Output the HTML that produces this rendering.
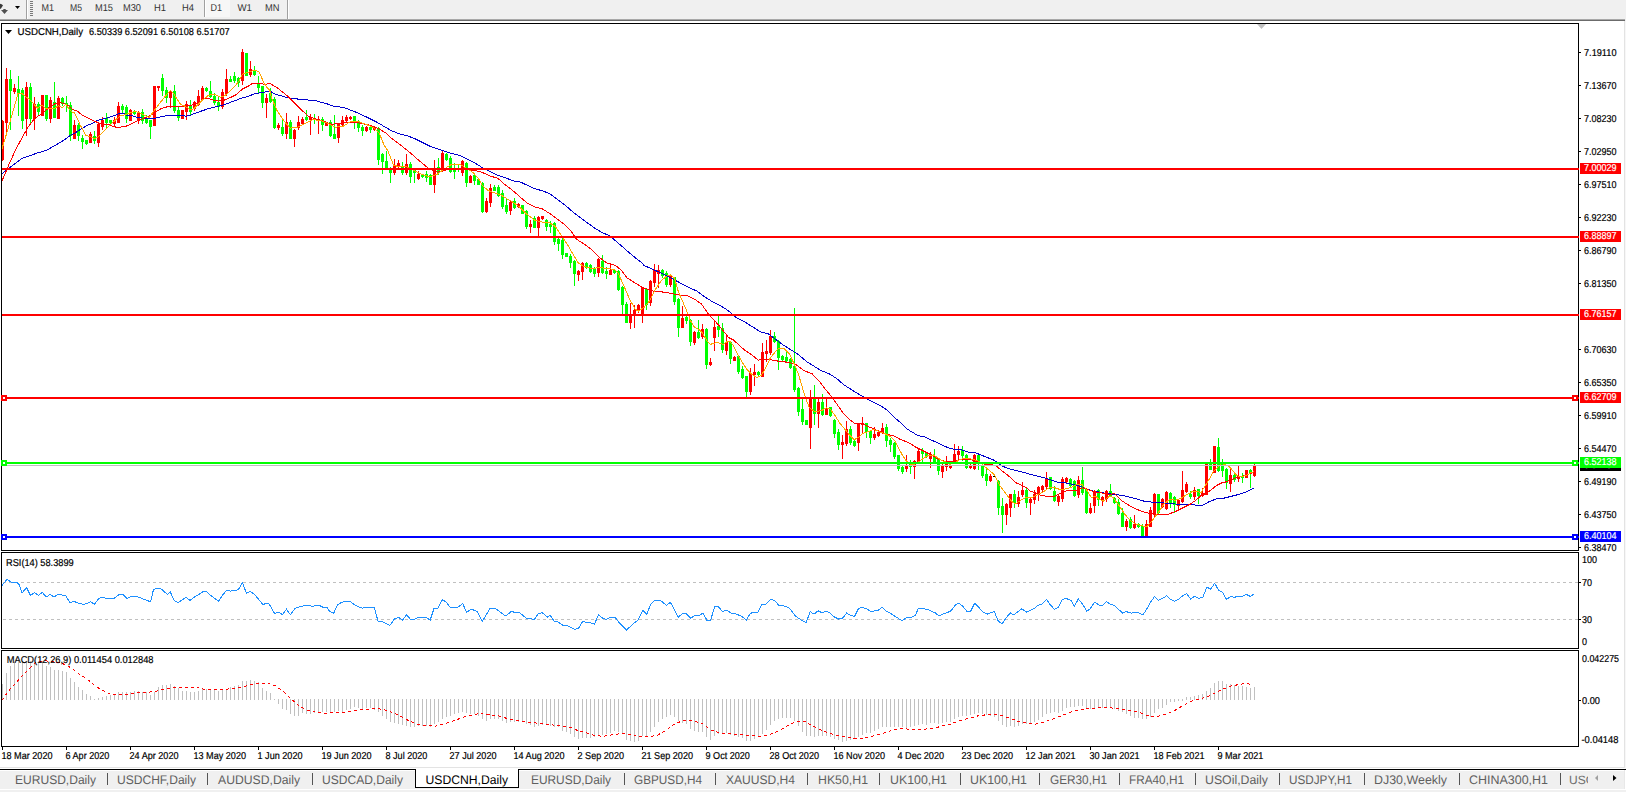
<!DOCTYPE html>
<html><head><meta charset="utf-8"><title>USDCNH,Daily</title>
<style>
html,body{margin:0;padding:0;background:#fff;width:1626px;height:792px;overflow:hidden}
svg{display:block}
text{font-family:"Liberation Sans",Arial,sans-serif}
</style></head><body>
<svg width="1626" height="792" viewBox="0 0 1626 792" text-rendering="geometricPrecision">
<rect x="0" y="0" width="1626" height="792" fill="#ffffff"/>
<rect x="0" y="0" width="1626" height="19" fill="#f0f0f0"/>
<rect x="0" y="19" width="1625" height="1" fill="#a8a8a8"/>
<rect x="0" y="20" width="1625" height="1" fill="#6b6b6b"/>
<rect x="1625" y="19" width="1" height="2" fill="#f0f0f0"/>
<rect x="1624" y="21" width="1" height="747" fill="#e3e3e3"/>
<rect x="1625" y="21" width="1" height="748" fill="#f7f7f7"/>
<rect x="0" y="767" width="1625" height="1" fill="#e3e3e3"/>
<path d="M0,3.8 L1.6,4.3 L3,5.3 L0.9,8.8 L0,8.8 Z" fill="#3a3a3a"/>
<path d="M1,10 L8,10 L4.5,14 Z" fill="#505050"/><rect x="3.3" y="9" width="2.4" height="1.2" fill="#505050"/>
<path d="M15,6 L20,6 L17.5,9 Z" fill="#000"/>
<rect x="26" y="0" width="1" height="19" fill="#a0a0a0"/>
<rect x="27" y="0" width="1" height="19" fill="#ffffff"/>
<rect x="30" y="1" width="3" height="1" fill="#7a7a7a"/>
<rect x="30" y="3" width="3" height="1" fill="#7a7a7a"/>
<rect x="30" y="5" width="3" height="1" fill="#7a7a7a"/>
<rect x="30" y="7" width="3" height="1" fill="#7a7a7a"/>
<rect x="30" y="9" width="3" height="1" fill="#7a7a7a"/>
<rect x="30" y="11" width="3" height="1" fill="#7a7a7a"/>
<rect x="30" y="13" width="3" height="1" fill="#7a7a7a"/>
<rect x="30" y="15" width="3" height="1" fill="#7a7a7a"/>
<rect x="204" y="0" width="1" height="17" fill="#a0a0a0"/>
<rect x="205" y="0" width="1" height="17" fill="#ffffff"/>
<rect x="287" y="0" width="1" height="19" fill="#a0a0a0"/>
<rect x="288" y="0" width="1" height="19" fill="#ffffff"/>
<rect x="206" y="0" width="24" height="17" fill="#f7f7f7"/>
<text x="41.5" y="11" font-size="10" fill="#333" textLength="12.5" lengthAdjust="spacingAndGlyphs">M1</text>
<text x="70" y="11" font-size="10" fill="#333" textLength="12" lengthAdjust="spacingAndGlyphs">M5</text>
<text x="95" y="11" font-size="10" fill="#333" textLength="18" lengthAdjust="spacingAndGlyphs">M15</text>
<text x="123" y="11" font-size="10" fill="#333" textLength="18" lengthAdjust="spacingAndGlyphs">M30</text>
<text x="154" y="11" font-size="10" fill="#333" textLength="12" lengthAdjust="spacingAndGlyphs">H1</text>
<text x="182" y="11" font-size="10" fill="#333" textLength="12" lengthAdjust="spacingAndGlyphs">H4</text>
<text x="210.5" y="11" font-size="10" fill="#333" textLength="11.5" lengthAdjust="spacingAndGlyphs">D1</text>
<text x="237.5" y="11" font-size="10" fill="#333" textLength="14.5" lengthAdjust="spacingAndGlyphs">W1</text>
<text x="265" y="11" font-size="10" fill="#333" textLength="14.5" lengthAdjust="spacingAndGlyphs">MN</text>
<path d="M1257,24 L1266,24 L1261.5,29 Z" fill="#c0c0c0"/>
<g shape-rendering="crispEdges"><rect x="2" y="120" width="1" height="41" fill="#ff0000"/><rect x="2" y="121" width="2" height="39" fill="#ff0000"/><rect x="6" y="68" width="1" height="68" fill="#ff0000"/><rect x="5" y="79" width="3" height="44" fill="#ff0000"/><rect x="10" y="70" width="1" height="60" fill="#00ff00"/><rect x="9" y="79" width="3" height="12" fill="#00ff00"/><rect x="14" y="84" width="1" height="10" fill="#ff0000"/><rect x="13" y="88" width="3" height="4" fill="#ff0000"/><rect x="18" y="76" width="1" height="40" fill="#00ff00"/><rect x="17" y="89" width="3" height="4" fill="#00ff00"/><rect x="22" y="88" width="1" height="41" fill="#00ff00"/><rect x="21" y="90" width="3" height="31" fill="#00ff00"/><rect x="26" y="82" width="1" height="54" fill="#ff0000"/><rect x="25" y="87" width="3" height="32" fill="#ff0000"/><rect x="30" y="83" width="1" height="41" fill="#00ff00"/><rect x="29" y="87" width="3" height="32" fill="#00ff00"/><rect x="34" y="97" width="1" height="33" fill="#ff0000"/><rect x="33" y="104" width="3" height="15" fill="#ff0000"/><rect x="38" y="102" width="1" height="14" fill="#00ff00"/><rect x="37" y="104" width="3" height="8" fill="#00ff00"/><rect x="42" y="95" width="1" height="21" fill="#ff0000"/><rect x="41" y="95" width="3" height="21" fill="#ff0000"/><rect x="46" y="95" width="1" height="26" fill="#00ff00"/><rect x="45" y="95" width="3" height="24" fill="#00ff00"/><rect x="50" y="97" width="1" height="26" fill="#ff0000"/><rect x="49" y="100" width="3" height="19" fill="#ff0000"/><rect x="54" y="82" width="1" height="36" fill="#00ff00"/><rect x="53" y="102" width="3" height="16" fill="#00ff00"/><rect x="58" y="96" width="1" height="23" fill="#ff0000"/><rect x="57" y="98" width="3" height="21" fill="#ff0000"/><rect x="62" y="97" width="1" height="9" fill="#00ff00"/><rect x="61" y="98" width="3" height="6" fill="#00ff00"/><rect x="66" y="96" width="1" height="16" fill="#00ff00"/><rect x="65" y="103" width="3" height="2" fill="#00ff00"/><rect x="70" y="102" width="1" height="39" fill="#00ff00"/><rect x="69" y="105" width="3" height="31" fill="#00ff00"/><rect x="74" y="120" width="1" height="19" fill="#ff0000"/><rect x="73" y="125" width="3" height="14" fill="#ff0000"/><rect x="78" y="123" width="1" height="18" fill="#00ff00"/><rect x="77" y="125" width="3" height="11" fill="#00ff00"/><rect x="82" y="135" width="1" height="14" fill="#00ff00"/><rect x="81" y="138" width="3" height="4" fill="#00ff00"/><rect x="86" y="140" width="1" height="5" fill="#00ff00"/><rect x="85" y="140" width="3" height="4" fill="#00ff00"/><rect x="90" y="132" width="1" height="11" fill="#ff0000"/><rect x="89" y="134" width="3" height="9" fill="#ff0000"/><rect x="94" y="131" width="1" height="13" fill="#00ff00"/><rect x="93" y="136" width="3" height="5" fill="#00ff00"/><rect x="98" y="124" width="1" height="23" fill="#ff0000"/><rect x="97" y="124" width="3" height="19" fill="#ff0000"/><rect x="102" y="117" width="1" height="13" fill="#ff0000"/><rect x="101" y="120" width="3" height="7" fill="#ff0000"/><rect x="106" y="113" width="1" height="15" fill="#00ff00"/><rect x="105" y="118" width="3" height="5" fill="#00ff00"/><rect x="110" y="120" width="1" height="4" fill="#00ff00"/><rect x="109" y="120" width="3" height="3" fill="#00ff00"/><rect x="114" y="117" width="1" height="9" fill="#ff0000"/><rect x="113" y="120" width="3" height="4" fill="#ff0000"/><rect x="118" y="102" width="1" height="21" fill="#ff0000"/><rect x="117" y="106" width="3" height="17" fill="#ff0000"/><rect x="122" y="104" width="1" height="9" fill="#00ff00"/><rect x="121" y="106" width="3" height="4" fill="#00ff00"/><rect x="126" y="105" width="1" height="18" fill="#00ff00"/><rect x="125" y="107" width="3" height="12" fill="#00ff00"/><rect x="130" y="109" width="1" height="12" fill="#ff0000"/><rect x="129" y="110" width="3" height="11" fill="#ff0000"/><rect x="134" y="110" width="1" height="5" fill="#00ff00"/><rect x="133" y="111" width="3" height="3" fill="#00ff00"/><rect x="138" y="111" width="1" height="13" fill="#ff0000"/><rect x="137" y="112" width="3" height="8" fill="#ff0000"/><rect x="142" y="109" width="1" height="15" fill="#00ff00"/><rect x="141" y="112" width="3" height="9" fill="#00ff00"/><rect x="146" y="115" width="1" height="9" fill="#00ff00"/><rect x="145" y="118" width="3" height="5" fill="#00ff00"/><rect x="150" y="120" width="1" height="19" fill="#00ff00"/><rect x="149" y="120" width="3" height="7" fill="#00ff00"/><rect x="154" y="86" width="1" height="40" fill="#ff0000"/><rect x="153" y="86" width="3" height="40" fill="#ff0000"/><rect x="158" y="86" width="1" height="5" fill="#ff0000"/><rect x="157" y="86" width="3" height="2" fill="#ff0000"/><rect x="162" y="74" width="1" height="22" fill="#00ff00"/><rect x="161" y="78" width="3" height="13" fill="#00ff00"/><rect x="166" y="87" width="1" height="16" fill="#00ff00"/><rect x="165" y="90" width="3" height="8" fill="#00ff00"/><rect x="170" y="90" width="1" height="18" fill="#ff0000"/><rect x="169" y="92" width="3" height="6" fill="#ff0000"/><rect x="174" y="85" width="1" height="28" fill="#00ff00"/><rect x="173" y="91" width="3" height="20" fill="#00ff00"/><rect x="178" y="107" width="1" height="14" fill="#00ff00"/><rect x="177" y="110" width="3" height="8" fill="#00ff00"/><rect x="182" y="110" width="1" height="9" fill="#ff0000"/><rect x="181" y="110" width="3" height="9" fill="#ff0000"/><rect x="186" y="101" width="1" height="19" fill="#ff0000"/><rect x="185" y="104" width="3" height="8" fill="#ff0000"/><rect x="190" y="100" width="1" height="15" fill="#00ff00"/><rect x="189" y="105" width="3" height="7" fill="#00ff00"/><rect x="194" y="101" width="1" height="10" fill="#ff0000"/><rect x="193" y="102" width="3" height="7" fill="#ff0000"/><rect x="198" y="90" width="1" height="16" fill="#ff0000"/><rect x="197" y="96" width="3" height="9" fill="#ff0000"/><rect x="202" y="86" width="1" height="15" fill="#ff0000"/><rect x="201" y="88" width="3" height="12" fill="#ff0000"/><rect x="206" y="87" width="1" height="5" fill="#00ff00"/><rect x="205" y="88" width="3" height="3" fill="#00ff00"/><rect x="210" y="81" width="1" height="17" fill="#00ff00"/><rect x="209" y="91" width="3" height="6" fill="#00ff00"/><rect x="214" y="93" width="1" height="12" fill="#00ff00"/><rect x="213" y="96" width="3" height="7" fill="#00ff00"/><rect x="218" y="97" width="1" height="14" fill="#00ff00"/><rect x="217" y="102" width="3" height="5" fill="#00ff00"/><rect x="222" y="89" width="1" height="20" fill="#ff0000"/><rect x="221" y="92" width="3" height="15" fill="#ff0000"/><rect x="226" y="69" width="1" height="27" fill="#ff0000"/><rect x="225" y="79" width="3" height="15" fill="#ff0000"/><rect x="230" y="76" width="1" height="6" fill="#00ff00"/><rect x="229" y="79" width="3" height="3" fill="#00ff00"/><rect x="234" y="72" width="1" height="11" fill="#00ff00"/><rect x="233" y="76" width="3" height="5" fill="#00ff00"/><rect x="238" y="77" width="1" height="10" fill="#00ff00"/><rect x="237" y="78" width="3" height="5" fill="#00ff00"/><rect x="242" y="49" width="1" height="36" fill="#ff0000"/><rect x="241" y="52" width="3" height="29" fill="#ff0000"/><rect x="246" y="53" width="1" height="23" fill="#00ff00"/><rect x="245" y="53" width="3" height="23" fill="#00ff00"/><rect x="250" y="61" width="1" height="16" fill="#ff0000"/><rect x="249" y="69" width="3" height="6" fill="#ff0000"/><rect x="254" y="66" width="1" height="10" fill="#00ff00"/><rect x="253" y="70" width="3" height="5" fill="#00ff00"/><rect x="258" y="76" width="1" height="17" fill="#00ff00"/><rect x="257" y="84" width="3" height="4" fill="#00ff00"/><rect x="262" y="86" width="1" height="22" fill="#00ff00"/><rect x="261" y="86" width="3" height="17" fill="#00ff00"/><rect x="266" y="94" width="1" height="24" fill="#ff0000"/><rect x="265" y="98" width="3" height="5" fill="#ff0000"/><rect x="270" y="88" width="1" height="15" fill="#00ff00"/><rect x="269" y="93" width="3" height="9" fill="#00ff00"/><rect x="274" y="97" width="1" height="32" fill="#00ff00"/><rect x="273" y="99" width="3" height="29" fill="#00ff00"/><rect x="278" y="123" width="1" height="7" fill="#ff0000"/><rect x="277" y="125" width="3" height="3" fill="#ff0000"/><rect x="282" y="118" width="1" height="18" fill="#00ff00"/><rect x="281" y="127" width="3" height="7" fill="#00ff00"/><rect x="286" y="113" width="1" height="26" fill="#ff0000"/><rect x="285" y="122" width="3" height="12" fill="#ff0000"/><rect x="290" y="120" width="1" height="19" fill="#00ff00"/><rect x="289" y="122" width="3" height="17" fill="#00ff00"/><rect x="294" y="129" width="1" height="18" fill="#ff0000"/><rect x="293" y="130" width="3" height="9" fill="#ff0000"/><rect x="298" y="116" width="1" height="14" fill="#ff0000"/><rect x="297" y="122" width="3" height="6" fill="#ff0000"/><rect x="302" y="117" width="1" height="7" fill="#ff0000"/><rect x="301" y="119" width="3" height="5" fill="#ff0000"/><rect x="306" y="110" width="1" height="11" fill="#00ff00"/><rect x="305" y="117" width="3" height="3" fill="#00ff00"/><rect x="310" y="114" width="1" height="21" fill="#ff0000"/><rect x="309" y="117" width="3" height="3" fill="#ff0000"/><rect x="314" y="114" width="1" height="10" fill="#00ff00"/><rect x="313" y="118" width="3" height="2" fill="#00ff00"/><rect x="318" y="116" width="1" height="18" fill="#ff0000"/><rect x="317" y="119" width="3" height="2" fill="#ff0000"/><rect x="322" y="117" width="1" height="14" fill="#00ff00"/><rect x="321" y="119" width="3" height="6" fill="#00ff00"/><rect x="326" y="122" width="1" height="4" fill="#ff0000"/><rect x="325" y="122" width="3" height="4" fill="#ff0000"/><rect x="330" y="120" width="1" height="17" fill="#00ff00"/><rect x="329" y="122" width="3" height="14" fill="#00ff00"/><rect x="334" y="115" width="1" height="24" fill="#00ff00"/><rect x="333" y="134" width="3" height="5" fill="#00ff00"/><rect x="338" y="123" width="1" height="20" fill="#ff0000"/><rect x="337" y="124" width="3" height="14" fill="#ff0000"/><rect x="342" y="116" width="1" height="10" fill="#ff0000"/><rect x="341" y="120" width="3" height="5" fill="#ff0000"/><rect x="346" y="115" width="1" height="8" fill="#ff0000"/><rect x="345" y="117" width="3" height="4" fill="#ff0000"/><rect x="350" y="116" width="1" height="4" fill="#ff0000"/><rect x="349" y="117" width="3" height="2" fill="#ff0000"/><rect x="354" y="116" width="1" height="13" fill="#00ff00"/><rect x="353" y="116" width="3" height="7" fill="#00ff00"/><rect x="358" y="120" width="1" height="12" fill="#00ff00"/><rect x="357" y="122" width="3" height="6" fill="#00ff00"/><rect x="362" y="125" width="1" height="11" fill="#00ff00"/><rect x="361" y="127" width="3" height="4" fill="#00ff00"/><rect x="366" y="126" width="1" height="6" fill="#ff0000"/><rect x="365" y="127" width="3" height="4" fill="#ff0000"/><rect x="370" y="126" width="1" height="7" fill="#00ff00"/><rect x="369" y="127" width="3" height="3" fill="#00ff00"/><rect x="374" y="126" width="1" height="5" fill="#ff0000"/><rect x="373" y="128" width="3" height="2" fill="#ff0000"/><rect x="378" y="127" width="1" height="38" fill="#00ff00"/><rect x="377" y="128" width="3" height="32" fill="#00ff00"/><rect x="382" y="153" width="1" height="21" fill="#00ff00"/><rect x="381" y="154" width="3" height="8" fill="#00ff00"/><rect x="386" y="151" width="1" height="18" fill="#00ff00"/><rect x="385" y="161" width="3" height="8" fill="#00ff00"/><rect x="390" y="167" width="1" height="16" fill="#00ff00"/><rect x="389" y="170" width="3" height="3" fill="#00ff00"/><rect x="394" y="159" width="1" height="16" fill="#ff0000"/><rect x="393" y="166" width="3" height="7" fill="#ff0000"/><rect x="398" y="160" width="1" height="8" fill="#ff0000"/><rect x="397" y="163" width="3" height="4" fill="#ff0000"/><rect x="402" y="162" width="1" height="13" fill="#00ff00"/><rect x="401" y="166" width="3" height="7" fill="#00ff00"/><rect x="406" y="154" width="1" height="21" fill="#ff0000"/><rect x="405" y="164" width="3" height="9" fill="#ff0000"/><rect x="410" y="162" width="1" height="21" fill="#00ff00"/><rect x="409" y="164" width="3" height="13" fill="#00ff00"/><rect x="414" y="170" width="1" height="13" fill="#00ff00"/><rect x="413" y="170" width="3" height="3" fill="#00ff00"/><rect x="418" y="171" width="1" height="9" fill="#ff0000"/><rect x="417" y="174" width="3" height="5" fill="#ff0000"/><rect x="422" y="174" width="1" height="4" fill="#00ff00"/><rect x="421" y="174" width="3" height="3" fill="#00ff00"/><rect x="426" y="171" width="1" height="11" fill="#00ff00"/><rect x="425" y="174" width="3" height="4" fill="#00ff00"/><rect x="430" y="174" width="1" height="11" fill="#00ff00"/><rect x="429" y="175" width="3" height="10" fill="#00ff00"/><rect x="434" y="160" width="1" height="33" fill="#ff0000"/><rect x="433" y="168" width="3" height="17" fill="#ff0000"/><rect x="438" y="158" width="1" height="17" fill="#00ff00"/><rect x="437" y="167" width="3" height="6" fill="#00ff00"/><rect x="442" y="151" width="1" height="21" fill="#ff0000"/><rect x="441" y="153" width="3" height="17" fill="#ff0000"/><rect x="446" y="153" width="1" height="8" fill="#00ff00"/><rect x="445" y="154" width="3" height="6" fill="#00ff00"/><rect x="450" y="156" width="1" height="17" fill="#00ff00"/><rect x="449" y="158" width="3" height="14" fill="#00ff00"/><rect x="454" y="163" width="1" height="16" fill="#00ff00"/><rect x="453" y="169" width="3" height="3" fill="#00ff00"/><rect x="458" y="164" width="1" height="8" fill="#00ff00"/><rect x="457" y="168" width="3" height="2" fill="#00ff00"/><rect x="462" y="160" width="1" height="16" fill="#ff0000"/><rect x="461" y="161" width="3" height="12" fill="#ff0000"/><rect x="466" y="162" width="1" height="25" fill="#00ff00"/><rect x="465" y="163" width="3" height="20" fill="#00ff00"/><rect x="470" y="175" width="1" height="8" fill="#ff0000"/><rect x="469" y="176" width="3" height="7" fill="#ff0000"/><rect x="474" y="174" width="1" height="11" fill="#00ff00"/><rect x="473" y="175" width="3" height="6" fill="#00ff00"/><rect x="478" y="178" width="1" height="7" fill="#00ff00"/><rect x="477" y="179" width="3" height="6" fill="#00ff00"/><rect x="482" y="182" width="1" height="31" fill="#00ff00"/><rect x="481" y="183" width="3" height="29" fill="#00ff00"/><rect x="486" y="198" width="1" height="15" fill="#ff0000"/><rect x="485" y="201" width="3" height="11" fill="#ff0000"/><rect x="490" y="184" width="1" height="23" fill="#ff0000"/><rect x="489" y="188" width="3" height="15" fill="#ff0000"/><rect x="494" y="185" width="1" height="6" fill="#00ff00"/><rect x="493" y="187" width="3" height="4" fill="#00ff00"/><rect x="498" y="185" width="1" height="12" fill="#00ff00"/><rect x="497" y="187" width="3" height="9" fill="#00ff00"/><rect x="502" y="190" width="1" height="19" fill="#00ff00"/><rect x="501" y="193" width="3" height="14" fill="#00ff00"/><rect x="506" y="198" width="1" height="16" fill="#00ff00"/><rect x="505" y="205" width="3" height="7" fill="#00ff00"/><rect x="510" y="201" width="1" height="14" fill="#ff0000"/><rect x="509" y="202" width="3" height="9" fill="#ff0000"/><rect x="514" y="198" width="1" height="11" fill="#00ff00"/><rect x="513" y="201" width="3" height="7" fill="#00ff00"/><rect x="518" y="203" width="1" height="5" fill="#ff0000"/><rect x="517" y="204" width="3" height="3" fill="#ff0000"/><rect x="522" y="205" width="1" height="9" fill="#00ff00"/><rect x="521" y="205" width="3" height="9" fill="#00ff00"/><rect x="526" y="210" width="1" height="19" fill="#00ff00"/><rect x="525" y="211" width="3" height="16" fill="#00ff00"/><rect x="530" y="220" width="1" height="13" fill="#ff0000"/><rect x="529" y="224" width="3" height="3" fill="#ff0000"/><rect x="534" y="216" width="1" height="12" fill="#00ff00"/><rect x="533" y="218" width="3" height="10" fill="#00ff00"/><rect x="538" y="216" width="1" height="21" fill="#ff0000"/><rect x="537" y="217" width="3" height="11" fill="#ff0000"/><rect x="542" y="216" width="1" height="4" fill="#ff0000"/><rect x="541" y="216" width="3" height="3" fill="#ff0000"/><rect x="546" y="219" width="1" height="12" fill="#00ff00"/><rect x="545" y="220" width="3" height="7" fill="#00ff00"/><rect x="550" y="221" width="1" height="12" fill="#00ff00"/><rect x="549" y="224" width="3" height="3" fill="#00ff00"/><rect x="554" y="222" width="1" height="23" fill="#00ff00"/><rect x="553" y="223" width="3" height="19" fill="#00ff00"/><rect x="558" y="237" width="1" height="14" fill="#00ff00"/><rect x="557" y="239" width="3" height="5" fill="#00ff00"/><rect x="562" y="237" width="1" height="22" fill="#00ff00"/><rect x="561" y="240" width="3" height="15" fill="#00ff00"/><rect x="566" y="253" width="1" height="4" fill="#00ff00"/><rect x="565" y="253" width="3" height="4" fill="#00ff00"/><rect x="570" y="254" width="1" height="14" fill="#00ff00"/><rect x="569" y="256" width="3" height="7" fill="#00ff00"/><rect x="574" y="260" width="1" height="26" fill="#00ff00"/><rect x="573" y="261" width="3" height="13" fill="#00ff00"/><rect x="578" y="270" width="1" height="11" fill="#ff0000"/><rect x="577" y="271" width="3" height="4" fill="#ff0000"/><rect x="582" y="262" width="1" height="18" fill="#ff0000"/><rect x="581" y="263" width="3" height="9" fill="#ff0000"/><rect x="586" y="262" width="1" height="7" fill="#00ff00"/><rect x="585" y="263" width="3" height="5" fill="#00ff00"/><rect x="590" y="264" width="1" height="9" fill="#00ff00"/><rect x="589" y="265" width="3" height="7" fill="#00ff00"/><rect x="594" y="267" width="1" height="10" fill="#00ff00"/><rect x="593" y="268" width="3" height="6" fill="#00ff00"/><rect x="598" y="258" width="1" height="19" fill="#ff0000"/><rect x="597" y="259" width="3" height="14" fill="#ff0000"/><rect x="602" y="255" width="1" height="19" fill="#00ff00"/><rect x="601" y="261" width="3" height="12" fill="#00ff00"/><rect x="606" y="267" width="1" height="12" fill="#00ff00"/><rect x="605" y="271" width="3" height="3" fill="#00ff00"/><rect x="610" y="265" width="1" height="10" fill="#ff0000"/><rect x="609" y="270" width="3" height="5" fill="#ff0000"/><rect x="614" y="270" width="1" height="4" fill="#00ff00"/><rect x="613" y="270" width="3" height="3" fill="#00ff00"/><rect x="618" y="270" width="1" height="21" fill="#00ff00"/><rect x="617" y="271" width="3" height="19" fill="#00ff00"/><rect x="622" y="286" width="1" height="29" fill="#00ff00"/><rect x="621" y="287" width="3" height="18" fill="#00ff00"/><rect x="626" y="302" width="1" height="21" fill="#00ff00"/><rect x="625" y="304" width="3" height="19" fill="#00ff00"/><rect x="630" y="303" width="1" height="26" fill="#ff0000"/><rect x="629" y="314" width="3" height="9" fill="#ff0000"/><rect x="634" y="305" width="1" height="23" fill="#ff0000"/><rect x="633" y="310" width="3" height="5" fill="#ff0000"/><rect x="638" y="304" width="1" height="9" fill="#ff0000"/><rect x="637" y="305" width="3" height="6" fill="#ff0000"/><rect x="642" y="287" width="1" height="36" fill="#ff0000"/><rect x="641" y="288" width="3" height="26" fill="#ff0000"/><rect x="646" y="288" width="1" height="22" fill="#00ff00"/><rect x="645" y="289" width="3" height="16" fill="#00ff00"/><rect x="650" y="280" width="1" height="26" fill="#ff0000"/><rect x="649" y="281" width="3" height="22" fill="#ff0000"/><rect x="654" y="264" width="1" height="23" fill="#ff0000"/><rect x="653" y="270" width="3" height="13" fill="#ff0000"/><rect x="658" y="265" width="1" height="23" fill="#ff0000"/><rect x="657" y="270" width="3" height="4" fill="#ff0000"/><rect x="662" y="269" width="1" height="9" fill="#00ff00"/><rect x="661" y="270" width="3" height="6" fill="#00ff00"/><rect x="666" y="271" width="1" height="16" fill="#00ff00"/><rect x="665" y="273" width="3" height="12" fill="#00ff00"/><rect x="670" y="275" width="1" height="12" fill="#ff0000"/><rect x="669" y="276" width="3" height="9" fill="#ff0000"/><rect x="674" y="277" width="1" height="28" fill="#00ff00"/><rect x="673" y="277" width="3" height="25" fill="#00ff00"/><rect x="678" y="298" width="1" height="39" fill="#00ff00"/><rect x="677" y="299" width="3" height="29" fill="#00ff00"/><rect x="682" y="306" width="1" height="22" fill="#ff0000"/><rect x="681" y="318" width="3" height="10" fill="#ff0000"/><rect x="686" y="316" width="1" height="8" fill="#00ff00"/><rect x="685" y="317" width="3" height="4" fill="#00ff00"/><rect x="690" y="319" width="1" height="27" fill="#00ff00"/><rect x="689" y="320" width="3" height="22" fill="#00ff00"/><rect x="694" y="331" width="1" height="14" fill="#ff0000"/><rect x="693" y="332" width="3" height="11" fill="#ff0000"/><rect x="698" y="320" width="1" height="19" fill="#00ff00"/><rect x="697" y="332" width="3" height="6" fill="#00ff00"/><rect x="702" y="324" width="1" height="15" fill="#ff0000"/><rect x="701" y="329" width="3" height="8" fill="#ff0000"/><rect x="706" y="328" width="1" height="41" fill="#00ff00"/><rect x="705" y="329" width="3" height="36" fill="#00ff00"/><rect x="710" y="358" width="1" height="8" fill="#ff0000"/><rect x="709" y="362" width="3" height="3" fill="#ff0000"/><rect x="714" y="320" width="1" height="31" fill="#ff0000"/><rect x="713" y="327" width="3" height="11" fill="#ff0000"/><rect x="718" y="316" width="1" height="21" fill="#00ff00"/><rect x="717" y="326" width="3" height="4" fill="#00ff00"/><rect x="722" y="323" width="1" height="30" fill="#00ff00"/><rect x="721" y="328" width="3" height="22" fill="#00ff00"/><rect x="726" y="335" width="1" height="20" fill="#ff0000"/><rect x="725" y="342" width="3" height="9" fill="#ff0000"/><rect x="730" y="341" width="1" height="23" fill="#00ff00"/><rect x="729" y="342" width="3" height="17" fill="#00ff00"/><rect x="734" y="356" width="1" height="5" fill="#ff0000"/><rect x="733" y="357" width="3" height="4" fill="#ff0000"/><rect x="738" y="356" width="1" height="18" fill="#00ff00"/><rect x="737" y="356" width="3" height="16" fill="#00ff00"/><rect x="742" y="366" width="1" height="13" fill="#00ff00"/><rect x="741" y="369" width="3" height="9" fill="#00ff00"/><rect x="746" y="376" width="1" height="22" fill="#00ff00"/><rect x="745" y="376" width="3" height="16" fill="#00ff00"/><rect x="750" y="368" width="1" height="27" fill="#ff0000"/><rect x="749" y="373" width="3" height="19" fill="#ff0000"/><rect x="754" y="364" width="1" height="22" fill="#ff0000"/><rect x="753" y="372" width="3" height="3" fill="#ff0000"/><rect x="758" y="371" width="1" height="5" fill="#00ff00"/><rect x="757" y="372" width="3" height="3" fill="#00ff00"/><rect x="762" y="343" width="1" height="34" fill="#ff0000"/><rect x="761" y="352" width="3" height="25" fill="#ff0000"/><rect x="766" y="340" width="1" height="22" fill="#ff0000"/><rect x="765" y="351" width="3" height="3" fill="#ff0000"/><rect x="770" y="330" width="1" height="25" fill="#ff0000"/><rect x="769" y="336" width="3" height="17" fill="#ff0000"/><rect x="774" y="332" width="1" height="11" fill="#00ff00"/><rect x="773" y="336" width="3" height="6" fill="#00ff00"/><rect x="778" y="340" width="1" height="30" fill="#00ff00"/><rect x="777" y="341" width="3" height="17" fill="#00ff00"/><rect x="782" y="355" width="1" height="7" fill="#00ff00"/><rect x="781" y="356" width="3" height="4" fill="#00ff00"/><rect x="786" y="352" width="1" height="11" fill="#00ff00"/><rect x="785" y="357" width="3" height="4" fill="#00ff00"/><rect x="790" y="358" width="1" height="11" fill="#00ff00"/><rect x="789" y="359" width="3" height="9" fill="#00ff00"/><rect x="794" y="308" width="1" height="84" fill="#00ff00"/><rect x="793" y="366" width="3" height="24" fill="#00ff00"/><rect x="798" y="387" width="1" height="29" fill="#00ff00"/><rect x="797" y="388" width="3" height="24" fill="#00ff00"/><rect x="802" y="399" width="1" height="26" fill="#00ff00"/><rect x="801" y="409" width="3" height="13" fill="#00ff00"/><rect x="806" y="420" width="1" height="5" fill="#00ff00"/><rect x="805" y="420" width="3" height="5" fill="#00ff00"/><rect x="810" y="390" width="1" height="59" fill="#ff0000"/><rect x="809" y="398" width="3" height="30" fill="#ff0000"/><rect x="814" y="385" width="1" height="40" fill="#00ff00"/><rect x="813" y="399" width="3" height="15" fill="#00ff00"/><rect x="818" y="399" width="1" height="29" fill="#ff0000"/><rect x="817" y="402" width="3" height="12" fill="#ff0000"/><rect x="822" y="394" width="1" height="22" fill="#00ff00"/><rect x="821" y="402" width="3" height="13" fill="#00ff00"/><rect x="826" y="398" width="1" height="17" fill="#ff0000"/><rect x="825" y="408" width="3" height="7" fill="#ff0000"/><rect x="830" y="407" width="1" height="10" fill="#00ff00"/><rect x="829" y="407" width="3" height="9" fill="#00ff00"/><rect x="834" y="419" width="1" height="19" fill="#00ff00"/><rect x="833" y="420" width="3" height="14" fill="#00ff00"/><rect x="838" y="429" width="1" height="21" fill="#00ff00"/><rect x="837" y="432" width="3" height="13" fill="#00ff00"/><rect x="842" y="435" width="1" height="24" fill="#ff0000"/><rect x="841" y="442" width="3" height="3" fill="#ff0000"/><rect x="846" y="421" width="1" height="25" fill="#ff0000"/><rect x="845" y="429" width="3" height="15" fill="#ff0000"/><rect x="850" y="426" width="1" height="19" fill="#00ff00"/><rect x="849" y="429" width="3" height="14" fill="#00ff00"/><rect x="854" y="440" width="1" height="7" fill="#00ff00"/><rect x="853" y="441" width="3" height="5" fill="#00ff00"/><rect x="858" y="423" width="1" height="28" fill="#ff0000"/><rect x="857" y="424" width="3" height="19" fill="#ff0000"/><rect x="862" y="417" width="1" height="16" fill="#ff0000"/><rect x="861" y="423" width="3" height="2" fill="#ff0000"/><rect x="866" y="423" width="1" height="15" fill="#00ff00"/><rect x="865" y="423" width="3" height="9" fill="#00ff00"/><rect x="870" y="430" width="1" height="14" fill="#00ff00"/><rect x="869" y="431" width="3" height="7" fill="#00ff00"/><rect x="874" y="427" width="1" height="13" fill="#ff0000"/><rect x="873" y="434" width="3" height="4" fill="#ff0000"/><rect x="878" y="432" width="1" height="5" fill="#ff0000"/><rect x="877" y="432" width="3" height="4" fill="#ff0000"/><rect x="882" y="423" width="1" height="11" fill="#ff0000"/><rect x="881" y="428" width="3" height="5" fill="#ff0000"/><rect x="886" y="424" width="1" height="23" fill="#00ff00"/><rect x="885" y="427" width="3" height="14" fill="#00ff00"/><rect x="890" y="438" width="1" height="14" fill="#00ff00"/><rect x="889" y="440" width="3" height="5" fill="#00ff00"/><rect x="894" y="442" width="1" height="17" fill="#00ff00"/><rect x="893" y="443" width="3" height="14" fill="#00ff00"/><rect x="898" y="455" width="1" height="16" fill="#00ff00"/><rect x="897" y="455" width="3" height="14" fill="#00ff00"/><rect x="902" y="466" width="1" height="8" fill="#00ff00"/><rect x="901" y="467" width="3" height="5" fill="#00ff00"/><rect x="906" y="455" width="1" height="17" fill="#ff0000"/><rect x="905" y="465" width="3" height="4" fill="#ff0000"/><rect x="910" y="460" width="1" height="14" fill="#00ff00"/><rect x="909" y="463" width="3" height="4" fill="#00ff00"/><rect x="914" y="460" width="1" height="19" fill="#ff0000"/><rect x="913" y="461" width="3" height="6" fill="#ff0000"/><rect x="918" y="448" width="1" height="15" fill="#ff0000"/><rect x="917" y="451" width="3" height="12" fill="#ff0000"/><rect x="922" y="448" width="1" height="14" fill="#00ff00"/><rect x="921" y="451" width="3" height="3" fill="#00ff00"/><rect x="926" y="452" width="1" height="6" fill="#00ff00"/><rect x="925" y="453" width="3" height="3" fill="#00ff00"/><rect x="930" y="452" width="1" height="16" fill="#ff0000"/><rect x="929" y="456" width="3" height="3" fill="#ff0000"/><rect x="934" y="449" width="1" height="14" fill="#00ff00"/><rect x="933" y="456" width="3" height="6" fill="#00ff00"/><rect x="938" y="458" width="1" height="17" fill="#00ff00"/><rect x="937" y="459" width="3" height="12" fill="#00ff00"/><rect x="942" y="462" width="1" height="16" fill="#ff0000"/><rect x="941" y="465" width="3" height="7" fill="#ff0000"/><rect x="946" y="456" width="1" height="15" fill="#ff0000"/><rect x="945" y="462" width="3" height="5" fill="#ff0000"/><rect x="950" y="464" width="1" height="5" fill="#ff0000"/><rect x="949" y="466" width="3" height="2" fill="#ff0000"/><rect x="954" y="444" width="1" height="19" fill="#ff0000"/><rect x="953" y="454" width="3" height="9" fill="#ff0000"/><rect x="958" y="446" width="1" height="14" fill="#ff0000"/><rect x="957" y="451" width="3" height="4" fill="#ff0000"/><rect x="962" y="446" width="1" height="15" fill="#00ff00"/><rect x="961" y="450" width="3" height="6" fill="#00ff00"/><rect x="966" y="454" width="1" height="15" fill="#00ff00"/><rect x="965" y="455" width="3" height="13" fill="#00ff00"/><rect x="970" y="464" width="1" height="5" fill="#ff0000"/><rect x="969" y="465" width="3" height="3" fill="#ff0000"/><rect x="974" y="454" width="1" height="16" fill="#ff0000"/><rect x="973" y="455" width="3" height="14" fill="#ff0000"/><rect x="978" y="454" width="1" height="16" fill="#00ff00"/><rect x="977" y="455" width="3" height="9" fill="#00ff00"/><rect x="982" y="462" width="1" height="16" fill="#00ff00"/><rect x="981" y="465" width="3" height="11" fill="#00ff00"/><rect x="986" y="467" width="1" height="19" fill="#00ff00"/><rect x="985" y="474" width="3" height="7" fill="#00ff00"/><rect x="990" y="474" width="1" height="8" fill="#ff0000"/><rect x="989" y="476" width="3" height="5" fill="#ff0000"/><rect x="993" y="476" width="3" height="1" fill="#000000"/><rect x="998" y="480" width="1" height="35" fill="#00ff00"/><rect x="997" y="481" width="3" height="27" fill="#00ff00"/><rect x="1002" y="498" width="1" height="35" fill="#00ff00"/><rect x="1001" y="506" width="3" height="9" fill="#00ff00"/><rect x="1006" y="503" width="1" height="22" fill="#ff0000"/><rect x="1005" y="504" width="3" height="11" fill="#ff0000"/><rect x="1010" y="494" width="1" height="23" fill="#ff0000"/><rect x="1009" y="494" width="3" height="14" fill="#ff0000"/><rect x="1014" y="490" width="1" height="18" fill="#00ff00"/><rect x="1013" y="494" width="3" height="9" fill="#00ff00"/><rect x="1018" y="491" width="1" height="16" fill="#ff0000"/><rect x="1017" y="497" width="3" height="7" fill="#ff0000"/><rect x="1022" y="482" width="1" height="15" fill="#ff0000"/><rect x="1021" y="490" width="3" height="5" fill="#ff0000"/><rect x="1026" y="488" width="1" height="20" fill="#00ff00"/><rect x="1025" y="490" width="3" height="13" fill="#00ff00"/><rect x="1030" y="497" width="1" height="18" fill="#ff0000"/><rect x="1029" y="499" width="3" height="4" fill="#ff0000"/><rect x="1034" y="490" width="1" height="14" fill="#ff0000"/><rect x="1033" y="494" width="3" height="6" fill="#ff0000"/><rect x="1038" y="486" width="1" height="15" fill="#ff0000"/><rect x="1037" y="487" width="3" height="8" fill="#ff0000"/><rect x="1042" y="485" width="1" height="7" fill="#ff0000"/><rect x="1041" y="486" width="3" height="4" fill="#ff0000"/><rect x="1046" y="472" width="1" height="17" fill="#ff0000"/><rect x="1045" y="478" width="3" height="9" fill="#ff0000"/><rect x="1050" y="477" width="1" height="13" fill="#00ff00"/><rect x="1049" y="477" width="3" height="12" fill="#00ff00"/><rect x="1054" y="486" width="1" height="16" fill="#00ff00"/><rect x="1053" y="491" width="3" height="10" fill="#00ff00"/><rect x="1058" y="495" width="1" height="11" fill="#ff0000"/><rect x="1057" y="496" width="3" height="6" fill="#ff0000"/><rect x="1062" y="477" width="1" height="25" fill="#ff0000"/><rect x="1061" y="479" width="3" height="20" fill="#ff0000"/><rect x="1066" y="477" width="1" height="6" fill="#ff0000"/><rect x="1065" y="478" width="3" height="4" fill="#ff0000"/><rect x="1070" y="478" width="1" height="9" fill="#00ff00"/><rect x="1069" y="479" width="3" height="7" fill="#00ff00"/><rect x="1074" y="480" width="1" height="17" fill="#00ff00"/><rect x="1073" y="481" width="3" height="15" fill="#00ff00"/><rect x="1078" y="476" width="1" height="22" fill="#ff0000"/><rect x="1077" y="480" width="3" height="15" fill="#ff0000"/><rect x="1082" y="467" width="1" height="28" fill="#00ff00"/><rect x="1081" y="480" width="3" height="13" fill="#00ff00"/><rect x="1086" y="488" width="1" height="26" fill="#00ff00"/><rect x="1085" y="489" width="3" height="24" fill="#00ff00"/><rect x="1090" y="503" width="1" height="11" fill="#ff0000"/><rect x="1089" y="508" width="3" height="5" fill="#ff0000"/><rect x="1094" y="490" width="1" height="23" fill="#ff0000"/><rect x="1093" y="491" width="3" height="15" fill="#ff0000"/><rect x="1098" y="489" width="1" height="17" fill="#00ff00"/><rect x="1097" y="490" width="3" height="10" fill="#00ff00"/><rect x="1102" y="496" width="1" height="10" fill="#ff0000"/><rect x="1101" y="497" width="3" height="4" fill="#ff0000"/><rect x="1106" y="490" width="1" height="12" fill="#ff0000"/><rect x="1105" y="491" width="3" height="8" fill="#ff0000"/><rect x="1110" y="484" width="1" height="13" fill="#00ff00"/><rect x="1109" y="491" width="3" height="5" fill="#00ff00"/><rect x="1114" y="497" width="1" height="7" fill="#00ff00"/><rect x="1113" y="498" width="3" height="5" fill="#00ff00"/><rect x="1118" y="499" width="1" height="16" fill="#00ff00"/><rect x="1117" y="502" width="3" height="12" fill="#00ff00"/><rect x="1122" y="508" width="1" height="19" fill="#00ff00"/><rect x="1121" y="513" width="3" height="14" fill="#00ff00"/><rect x="1126" y="519" width="1" height="12" fill="#ff0000"/><rect x="1125" y="521" width="3" height="6" fill="#ff0000"/><rect x="1130" y="517" width="1" height="12" fill="#00ff00"/><rect x="1129" y="519" width="3" height="9" fill="#00ff00"/><rect x="1134" y="515" width="1" height="14" fill="#ff0000"/><rect x="1133" y="524" width="3" height="4" fill="#ff0000"/><rect x="1138" y="523" width="1" height="5" fill="#00ff00"/><rect x="1137" y="524" width="3" height="3" fill="#00ff00"/><rect x="1142" y="524" width="1" height="13" fill="#00ff00"/><rect x="1141" y="526" width="3" height="11" fill="#00ff00"/><rect x="1146" y="520" width="1" height="17" fill="#ff0000"/><rect x="1145" y="524" width="3" height="13" fill="#ff0000"/><rect x="1150" y="507" width="1" height="20" fill="#ff0000"/><rect x="1149" y="510" width="3" height="17" fill="#ff0000"/><rect x="1154" y="493" width="1" height="24" fill="#ff0000"/><rect x="1153" y="494" width="3" height="20" fill="#ff0000"/><rect x="1158" y="494" width="1" height="20" fill="#00ff00"/><rect x="1157" y="494" width="3" height="19" fill="#00ff00"/><rect x="1162" y="498" width="1" height="10" fill="#ff0000"/><rect x="1161" y="499" width="3" height="8" fill="#ff0000"/><rect x="1166" y="491" width="1" height="19" fill="#ff0000"/><rect x="1165" y="492" width="3" height="17" fill="#ff0000"/><rect x="1170" y="492" width="1" height="16" fill="#00ff00"/><rect x="1169" y="493" width="3" height="10" fill="#00ff00"/><rect x="1174" y="496" width="1" height="17" fill="#00ff00"/><rect x="1173" y="497" width="3" height="8" fill="#00ff00"/><rect x="1178" y="499" width="1" height="12" fill="#ff0000"/><rect x="1177" y="500" width="3" height="6" fill="#ff0000"/><rect x="1182" y="471" width="1" height="32" fill="#ff0000"/><rect x="1181" y="490" width="3" height="12" fill="#ff0000"/><rect x="1186" y="482" width="1" height="11" fill="#ff0000"/><rect x="1185" y="484" width="3" height="8" fill="#ff0000"/><rect x="1190" y="491" width="1" height="8" fill="#00ff00"/><rect x="1189" y="494" width="3" height="3" fill="#00ff00"/><rect x="1194" y="487" width="1" height="13" fill="#ff0000"/><rect x="1193" y="490" width="3" height="7" fill="#ff0000"/><rect x="1198" y="489" width="1" height="15" fill="#00ff00"/><rect x="1197" y="489" width="3" height="7" fill="#00ff00"/><rect x="1202" y="488" width="1" height="9" fill="#ff0000"/><rect x="1201" y="493" width="3" height="3" fill="#ff0000"/><rect x="1206" y="464" width="1" height="31" fill="#ff0000"/><rect x="1205" y="464" width="3" height="31" fill="#ff0000"/><rect x="1210" y="459" width="1" height="11" fill="#00ff00"/><rect x="1209" y="464" width="3" height="6" fill="#00ff00"/><rect x="1214" y="446" width="1" height="27" fill="#ff0000"/><rect x="1213" y="446" width="3" height="27" fill="#ff0000"/><rect x="1218" y="438" width="1" height="34" fill="#00ff00"/><rect x="1217" y="447" width="3" height="24" fill="#00ff00"/><rect x="1222" y="459" width="1" height="18" fill="#00ff00"/><rect x="1221" y="463" width="3" height="8" fill="#00ff00"/><rect x="1226" y="468" width="1" height="21" fill="#00ff00"/><rect x="1225" y="469" width="3" height="14" fill="#00ff00"/><rect x="1230" y="468" width="1" height="24" fill="#ff0000"/><rect x="1229" y="475" width="3" height="9" fill="#ff0000"/><rect x="1234" y="474" width="1" height="8" fill="#00ff00"/><rect x="1233" y="475" width="3" height="5" fill="#00ff00"/><rect x="1238" y="466" width="1" height="16" fill="#ff0000"/><rect x="1237" y="476" width="3" height="3" fill="#ff0000"/><rect x="1242" y="473" width="1" height="10" fill="#00ff00"/><rect x="1241" y="476" width="3" height="2" fill="#00ff00"/><rect x="1246" y="470" width="1" height="8" fill="#ff0000"/><rect x="1245" y="470" width="3" height="8" fill="#ff0000"/><rect x="1250" y="469" width="1" height="19" fill="#00ff00"/><rect x="1249" y="470" width="3" height="4" fill="#00ff00"/><rect x="1254" y="464" width="1" height="13" fill="#ff0000"/><rect x="1253" y="465" width="3" height="11" fill="#ff0000"/></g>
<g shape-rendering="crispEdges">
<polyline points="2.0,173.6 22.0,158.4 38.0,152.8 47.2,150.0 60.0,142.6 65.3,139.1 70.6,135.1 75.9,132.4 81.2,128.9 86.5,125.8 91.8,123.6 97.1,120.5 102.4,119.2 107.7,117.9 113.0,116.1 117.5,114.3 120.0,113.3 124.0,113.5 126.1,115.1 132.1,115.6 136.2,117.1 144.2,118.4 155.4,118.1 160.4,116.8 168.5,115.4 176.6,115.4 186.7,116.1 190.0,115.3 198.1,112.2 208.2,108.7 218.3,106.2 224.3,104.6 232.4,101.6 240.5,98.6 248.6,96.1 255.7,93.5 262.7,92.5 269.8,91.0 274.9,94.0 284.4,96.8 293.9,98.7 305.3,99.7 316.6,101.0 326.1,103.5 333.7,106.3 343.2,107.3 354.5,111.6 365.9,116.7 377.3,122.4 386.0,127.6 391.6,130.8 399.2,133.7 406.7,135.6 414.3,138.4 421.9,142.2 429.5,146.0 437.1,148.8 444.6,151.3 452.2,153.6 459.8,155.5 467.4,159.3 475.0,163.0 482.5,167.8 490.1,171.6 497.7,175.4 505.3,177.8 514.0,181.1 519.6,181.7 527.2,185.2 534.7,188.6 542.3,190.8 549.9,193.7 557.5,199.4 565.1,205.1 572.6,211.7 580.2,217.4 587.8,223.1 595.4,228.7 603.0,232.9 610.5,236.3 618.1,243.0 625.7,249.6 633.3,256.2 642.0,262.9 644.1,265.6 651.7,268.8 659.3,272.2 666.9,276.0 674.4,279.8 682.0,284.0 689.6,287.8 697.2,291.2 704.8,296.9 712.3,301.6 719.9,305.4 727.5,310.1 735.1,316.7 740.0,319.6 745.6,322.5 753.2,327.2 760.7,332.0 768.3,333.8 775.9,339.5 783.5,345.2 791.1,350.0 798.6,354.7 806.2,361.3 813.8,366.1 821.4,370.8 829.0,373.6 836.5,378.4 844.1,385.0 851.7,389.8 859.3,394.5 866.5,398.8 874.1,402.6 881.7,406.4 887.0,410.0 895.2,418.1 902.2,424.1 907.3,429.2 912.0,432.0 918.4,435.8 924.4,436.8 930.0,439.5 936.6,442.3 940.6,444.3 950.7,448.9 959.8,449.4 965.1,450.9 970.0,452.8 975.5,452.8 985.0,456.6 994.4,460.4 1002.0,466.1 1009.6,468.9 1017.2,470.8 1024.7,472.7 1030.0,474.2 1036.1,475.8 1042.1,477.3 1046.2,478.3 1052.2,480.3 1058.3,482.3 1064.3,482.8 1070.4,483.8 1074.4,484.8 1080.5,486.4 1086.6,488.9 1092.6,490.9 1100.7,492.4 1109.8,493.9 1114.7,494.5 1122.3,495.4 1129.9,497.3 1137.5,499.2 1145.1,501.5 1152.6,502.1 1160.2,502.6 1167.8,503.4 1175.4,504.0 1183.0,504.5 1190.5,504.5 1198.1,505.3 1202.3,505.6 1208.6,502.0 1216.2,498.9 1223.8,498.2 1231.3,496.3 1238.9,494.4 1246.5,491.9 1254.0,488.1" fill="none" stroke="#0000cd" stroke-width="1"/>
<polyline points="2.0,181.0 10.0,162.0 16.0,149.0 22.0,138.0 28.0,127.0 34.7,118.5 41.7,113.6 48.6,108.0 55.6,103.2 60.0,102.4 64.4,103.7 68.8,105.9 73.3,109.9 77.7,111.2 82.1,115.2 86.5,117.4 90.9,119.6 95.4,121.4 98.9,123.2 104.2,124.0 109.5,124.9 113.0,126.3 117.5,127.6 120.0,127.2 126.1,126.2 130.1,124.6 135.2,122.1 140.2,119.6 144.2,118.1 148.3,116.6 152.3,114.5 156.4,111.5 161.4,108.5 166.5,107.0 170.5,106.5 183.6,106.5 187.7,105.5 190.0,105.7 196.1,103.6 200.1,101.6 205.2,98.1 209.2,98.6 213.2,100.1 218.3,101.1 224.3,100.1 230.4,97.6 236.5,94.5 242.5,89.0 247.6,86.5 252.6,83.4 260.7,83.4 264.7,84.4 269.8,83.4 276.8,87.4 286.3,95.0 293.9,102.5 301.5,110.1 309.1,116.7 316.6,119.2 324.2,121.5 331.8,124.3 339.4,123.4 347.0,122.4 354.5,122.4 362.1,123.4 369.7,125.3 377.3,128.1 386.0,132.9 391.6,138.4 399.2,144.1 406.7,149.8 414.3,156.4 421.9,163.0 429.5,169.1 437.1,172.2 444.6,170.3 452.2,169.1 459.8,169.1 467.4,169.7 475.0,170.3 482.5,172.5 490.1,176.0 497.7,178.2 505.3,184.9 514.0,191.5 519.6,196.5 527.2,203.2 534.7,207.0 542.3,208.8 549.9,213.6 557.5,219.3 565.1,225.0 570.7,230.6 576.4,239.2 584.0,243.9 591.6,249.6 599.2,257.2 606.8,262.9 615.7,265.6 621.4,270.3 627.0,277.9 634.6,282.6 642.2,287.4 647.9,289.3 653.6,291.2 659.3,291.5 666.9,292.7 674.4,294.0 682.0,295.3 687.7,295.9 693.4,298.7 695.7,300.0 701.4,304.0 708.2,313.6 714.4,320.5 719.5,326.1 724.1,331.8 728.6,337.5 733.2,339.8 738.9,344.9 744.5,350.0 751.4,354.5 758.2,360.2 762.7,359.1 770.0,359.7 774.0,360.4 781.6,361.7 789.2,362.3 796.7,365.1 804.3,370.8 811.9,373.6 818.2,380.0 826.1,390.2 831.8,397.0 837.5,405.0 843.2,413.0 848.9,419.2 854.5,423.2 862.5,423.4 868.2,426.6 873.9,428.9 880.0,431.7 885.5,433.8 893.1,435.7 900.6,439.5 908.2,442.4 915.8,447.1 923.4,450.9 931.0,454.7 938.5,459.1 946.1,461.7 953.7,461.7 961.3,459.4 970.0,459.1 973.6,460.4 981.2,462.8 986.1,464.6 994.2,465.1 996.2,466.1 1001.3,470.2 1006.3,474.2 1011.4,478.2 1016.0,482.8 1019.1,484.1 1026.6,487.9 1030.0,490.9 1034.0,492.4 1041.1,495.5 1049.2,496.5 1054.2,496.5 1060.3,493.4 1064.3,491.4 1068.4,490.4 1075.5,490.4 1082.5,487.9 1086.6,488.9 1092.6,491.4 1098.7,492.4 1109.8,494.4 1114.7,493.5 1122.3,501.1 1129.9,505.9 1137.5,509.6 1145.1,512.5 1152.6,514.0 1160.2,514.4 1167.8,514.4 1175.4,511.5 1183.0,507.8 1190.5,504.0 1196.0,500.1 1201.0,495.7 1206.1,493.2 1211.1,490.0 1216.2,485.6 1221.2,483.1 1226.3,481.8 1231.3,479.9 1236.4,477.4 1241.4,476.8 1246.5,474.9 1251.5,473.0 1254.0,472.4" fill="none" stroke="#ff0000" stroke-width="1"/>
<polyline points="2.0,149.0 10.0,122.0 18.0,93.5 22.0,93.5 30.0,100.0 34.7,105.0 37.5,108.0 41.7,105.0 45.8,108.7 50.0,108.0 54.0,108.7 58.5,105.5 62.2,107.7 66.2,104.1 68.8,109.0 72.4,112.1 74.1,112.5 77.7,119.2 80.3,125.4 83.0,129.8 85.6,135.5 89.2,136.4 94.5,138.6 98.0,137.3 100.7,134.2 106.0,128.9 109.5,125.4 113.9,121.4 117.5,118.3 120.0,116.1 124.0,115.1 128.1,113.5 131.1,112.5 135.2,111.5 139.2,112.5 143.2,114.5 146.3,116.1 149.3,117.6 152.3,113.0 156.4,107.5 160.4,102.4 164.4,97.4 168.5,92.3 170.5,90.8 173.5,93.3 176.6,98.4 180.6,104.4 184.6,106.0 188.7,108.5 190.0,109.7 194.0,108.7 198.1,104.6 203.1,99.6 208.2,95.6 212.2,94.0 216.3,95.0 220.3,97.1 223.3,96.6 227.4,93.5 231.4,89.5 235.5,85.5 239.5,80.4 242.5,74.3 246.6,72.8 250.6,71.3 255.7,70.3 258.7,71.8 260.7,75.4 263.7,82.4 266.8,87.5 269.8,90.5 271.2,96.8 276.8,110.1 284.4,121.5 290.1,128.1 297.7,127.2 305.3,123.4 312.9,119.6 320.4,120.5 328.0,123.4 335.6,127.2 343.2,126.2 350.8,121.5 358.3,121.5 365.9,124.3 373.5,127.6 379.2,132.9 384.0,145.0 387.8,150.7 393.5,165.0 399.2,166.9 406.7,166.9 414.3,170.6 421.9,174.4 429.5,176.7 437.1,174.4 444.6,168.7 452.2,164.0 459.8,164.0 465.5,167.8 473.1,172.5 478.8,179.2 482.5,185.8 488.2,190.5 495.8,193.4 501.5,195.3 507.2,199.0 514.0,202.9 519.6,207.0 527.2,214.5 534.7,220.2 542.3,222.1 549.9,222.7 555.6,226.9 561.3,235.4 567.0,243.9 572.6,253.4 578.3,262.9 584.0,266.6 591.6,268.5 599.2,267.6 606.8,268.5 614.3,269.5 618.1,273.3 623.8,285.6 629.5,298.9 635.2,309.3 638.4,311.1 644.1,307.3 649.8,300.6 655.5,289.3 661.2,280.7 666.9,276.0 670.6,275.0 674.4,277.9 678.2,291.2 683.9,304.4 689.6,317.7 690.0,319.9 694.5,327.3 699.1,329.5 702.5,333.0 707.0,340.9 710.5,344.3 716.1,342.6 720.7,343.2 723.0,344.9 726.4,342.0 730.3,341.8 733.2,345.5 737.7,354.5 742.3,362.5 746.8,369.3 751.4,373.9 757.0,377.8 761.6,375.0 766.1,367.0 770.0,358.5 772.1,355.6 778.7,348.1 784.4,349.0 789.2,353.7 793.9,363.2 798.6,374.6 804.5,394.8 809.1,407.3 814.8,411.8 821.6,410.5 826.1,407.8 830.1,409.0 834.1,414.1 839.8,423.2 845.5,430.0 850.0,435.7 854.3,439.7 859.1,436.8 862.5,433.4 868.2,431.7 873.9,429.4 880.0,432.0 886.0,434.2 890.1,436.3 895.2,441.3 899.2,449.4 903.2,456.5 906.8,461.5 911.3,464.5 915.4,464.0 920.4,460.5 924.4,457.5 928.5,455.5 933.5,455.0 936.6,457.0 941.6,460.5 945.7,462.0 949.7,464.5 954.7,463.0 959.8,459.5 965.1,458.5 970.0,458.5 971.7,459.4 977.4,460.4 983.1,465.1 988.7,469.9 994.4,474.6 1000.1,486.0 1005.8,493.5 1011.5,501.1 1015.3,504.0 1021.0,500.2 1026.6,497.3 1032.3,497.3 1038.0,494.5 1043.7,491.6 1049.4,487.5 1055.1,487.9 1060.8,489.8 1066.4,488.8 1072.1,486.9 1077.8,484.1 1081.6,484.1 1087.3,490.7 1091.1,497.3 1096.0,496.4 1097.7,498.3 1103.4,501.1 1109.1,496.4 1112.8,497.3 1118.5,504.9 1124.2,513.4 1129.9,520.1 1135.6,523.9 1141.3,525.8 1147.0,526.7 1152.6,520.1 1158.3,512.5 1164.0,504.0 1169.7,499.2 1175.4,500.2 1181.1,498.3 1186.8,494.5 1192.4,491.6 1198.1,491.6 1201.0,492.6 1206.1,484.4 1209.9,478.0 1213.7,471.1 1217.5,467.3 1221.2,463.5 1225.0,464.8 1228.8,466.1 1232.6,470.5 1235.7,474.3 1238.9,476.8 1242.7,476.2 1246.5,475.5 1250.3,473.0 1254.0,471.7" fill="none" stroke="#ffa500" stroke-width="1"/>
</g>
<rect x="1" y="23" width="1578" height="1" fill="#000"/>
<rect x="1" y="23" width="1" height="528" fill="#000"/>
<rect x="1" y="550" width="1578" height="1" fill="#000"/>
<rect x="1578" y="23" width="1" height="528" fill="#000"/>
<rect x="2" y="465" width="1576" height="1" fill="#c0c0c0"/>
<rect x="2" y="168" width="1577" height="2" fill="#ff0000"/>
<rect x="2" y="236" width="1577" height="2" fill="#ff0000"/>
<rect x="2" y="314" width="1577" height="2" fill="#ff0000"/>
<rect x="2" y="397" width="1577" height="2" fill="#ff0000"/>
<rect x="1" y="395" width="6" height="6" fill="#ff0000"/>
<rect x="3" y="397" width="2" height="2" fill="#ffffff"/>
<rect x="1572" y="395" width="6" height="6" fill="#ff0000"/>
<rect x="1574" y="397" width="2" height="2" fill="#ffffff"/>
<rect x="2" y="462" width="1577" height="2" fill="#00ff00"/>
<rect x="1" y="460" width="6" height="6" fill="#00ff00"/>
<rect x="3" y="462" width="2" height="2" fill="#ffffff"/>
<rect x="1572" y="460" width="6" height="6" fill="#00ff00"/>
<rect x="1574" y="462" width="2" height="2" fill="#ffffff"/>
<rect x="2" y="536" width="1577" height="2" fill="#0000ff"/>
<rect x="1" y="534" width="6" height="6" fill="#0000ff"/>
<rect x="3" y="536" width="2" height="2" fill="#ffffff"/>
<rect x="1572" y="534" width="6" height="6" fill="#0000ff"/>
<rect x="1574" y="536" width="2" height="2" fill="#ffffff"/>
<path d="M5,30 L12,30 L8.5,34 Z" fill="#000"/>
<text x="17.5" y="35" font-size="10" fill="#000" stroke="#000" stroke-width="0.2" textLength="65.5" lengthAdjust="spacingAndGlyphs">USDCNH,Daily</text>
<text x="89" y="35" font-size="10" fill="#000" stroke="#000" stroke-width="0.2" textLength="140.7" lengthAdjust="spacingAndGlyphs">6.50339 6.52091 6.50108 6.51707</text>
<rect x="1579" y="52" width="2" height="1" fill="#000"/>
<text x="1584" y="56" font-size="10" fill="#000" stroke="#000" stroke-width="0.2" textLength="32.5" lengthAdjust="spacingAndGlyphs">7.19110</text>
<rect x="1579" y="85" width="2" height="1" fill="#000"/>
<text x="1584" y="89" font-size="10" fill="#000" stroke="#000" stroke-width="0.2" textLength="32.5" lengthAdjust="spacingAndGlyphs">7.13670</text>
<rect x="1579" y="118" width="2" height="1" fill="#000"/>
<text x="1584" y="122" font-size="10" fill="#000" stroke="#000" stroke-width="0.2" textLength="32.5" lengthAdjust="spacingAndGlyphs">7.08230</text>
<rect x="1579" y="151" width="2" height="1" fill="#000"/>
<text x="1584" y="155" font-size="10" fill="#000" stroke="#000" stroke-width="0.2" textLength="32.5" lengthAdjust="spacingAndGlyphs">7.02950</text>
<rect x="1579" y="184" width="2" height="1" fill="#000"/>
<text x="1584" y="188" font-size="10" fill="#000" stroke="#000" stroke-width="0.2" textLength="32.5" lengthAdjust="spacingAndGlyphs">6.97510</text>
<rect x="1579" y="217" width="2" height="1" fill="#000"/>
<text x="1584" y="221" font-size="10" fill="#000" stroke="#000" stroke-width="0.2" textLength="32.5" lengthAdjust="spacingAndGlyphs">6.92230</text>
<rect x="1579" y="250" width="2" height="1" fill="#000"/>
<text x="1584" y="254" font-size="10" fill="#000" stroke="#000" stroke-width="0.2" textLength="32.5" lengthAdjust="spacingAndGlyphs">6.86790</text>
<rect x="1579" y="283" width="2" height="1" fill="#000"/>
<text x="1584" y="287" font-size="10" fill="#000" stroke="#000" stroke-width="0.2" textLength="32.5" lengthAdjust="spacingAndGlyphs">6.81350</text>
<rect x="1579" y="349" width="2" height="1" fill="#000"/>
<text x="1584" y="353" font-size="10" fill="#000" stroke="#000" stroke-width="0.2" textLength="32.5" lengthAdjust="spacingAndGlyphs">6.70630</text>
<rect x="1579" y="382" width="2" height="1" fill="#000"/>
<text x="1584" y="386" font-size="10" fill="#000" stroke="#000" stroke-width="0.2" textLength="32.5" lengthAdjust="spacingAndGlyphs">6.65350</text>
<rect x="1579" y="415" width="2" height="1" fill="#000"/>
<text x="1584" y="419" font-size="10" fill="#000" stroke="#000" stroke-width="0.2" textLength="32.5" lengthAdjust="spacingAndGlyphs">6.59910</text>
<rect x="1579" y="448" width="2" height="1" fill="#000"/>
<text x="1584" y="452" font-size="10" fill="#000" stroke="#000" stroke-width="0.2" textLength="32.5" lengthAdjust="spacingAndGlyphs">6.54470</text>
<rect x="1579" y="481" width="2" height="1" fill="#000"/>
<text x="1584" y="485" font-size="10" fill="#000" stroke="#000" stroke-width="0.2" textLength="32.5" lengthAdjust="spacingAndGlyphs">6.49190</text>
<rect x="1579" y="514" width="2" height="1" fill="#000"/>
<text x="1584" y="518" font-size="10" fill="#000" stroke="#000" stroke-width="0.2" textLength="32.5" lengthAdjust="spacingAndGlyphs">6.43750</text>
<rect x="1579" y="547" width="2" height="1" fill="#000"/>
<text x="1584" y="551" font-size="10" fill="#000" stroke="#000" stroke-width="0.2" textLength="32.5" lengthAdjust="spacingAndGlyphs">6.38470</text>
<rect x="1580" y="460" width="41" height="11" fill="#000000"/>
<text x="1584" y="468" font-size="10" fill="#fff" stroke="#fff" stroke-width="0.2" textLength="32.5" lengthAdjust="spacingAndGlyphs">6.51707</text>
<rect x="1580" y="163" width="41" height="11" fill="#ff0000"/>
<text x="1584" y="171" font-size="10" fill="#fff" stroke="#fff" stroke-width="0.2" textLength="32.5" lengthAdjust="spacingAndGlyphs">7.00029</text>
<rect x="1580" y="231" width="41" height="11" fill="#ff0000"/>
<text x="1584" y="239" font-size="10" fill="#fff" stroke="#fff" stroke-width="0.2" textLength="32.5" lengthAdjust="spacingAndGlyphs">6.88897</text>
<rect x="1580" y="309" width="41" height="11" fill="#ff0000"/>
<text x="1584" y="317" font-size="10" fill="#fff" stroke="#fff" stroke-width="0.2" textLength="32.5" lengthAdjust="spacingAndGlyphs">6.76157</text>
<rect x="1580" y="392" width="41" height="11" fill="#ff0000"/>
<text x="1584" y="400" font-size="10" fill="#fff" stroke="#fff" stroke-width="0.2" textLength="32.5" lengthAdjust="spacingAndGlyphs">6.62709</text>
<rect x="1580" y="457" width="41" height="11" fill="#00ff00"/>
<text x="1584" y="465" font-size="10" fill="#fff" stroke="#fff" stroke-width="0.2" textLength="32.5" lengthAdjust="spacingAndGlyphs">6.52138</text>
<rect x="1580" y="531" width="41" height="11" fill="#0000ff"/>
<text x="1584" y="539" font-size="10" fill="#fff" stroke="#fff" stroke-width="0.2" textLength="32.5" lengthAdjust="spacingAndGlyphs">6.40104</text>
<rect x="1" y="552" width="1578" height="1" fill="#000"/>
<rect x="1" y="552" width="1" height="97" fill="#000"/>
<rect x="1" y="648" width="1578" height="1" fill="#000"/>
<rect x="1578" y="552" width="1" height="97" fill="#000"/>
<g shape-rendering="crispEdges">
<line x1="3" y1="582.5" x2="1578" y2="582.5" stroke="#c0c0c0" stroke-width="1" stroke-dasharray="3 3"/>
<line x1="3" y1="619.5" x2="1578" y2="619.5" stroke="#c0c0c0" stroke-width="1" stroke-dasharray="3 3"/>
<polyline points="2.0,585.6 6.9,579.3 10.8,582.0 16.7,582.6 18.7,583.6 22.0,593.0 26.6,587.6 30.5,595.4 34.4,592.5 38.4,595.4 42.3,592.5 46.3,597.0 50.2,594.4 54.1,597.0 58.1,594.4 62.0,595.0 65.9,595.8 69.9,602.9 73.8,601.3 77.8,602.9 82.7,604.3 86.6,603.7 90.6,601.7 94.5,604.3 98.4,599.0 102.4,597.0 106.3,598.4 114.2,598.4 119.1,594.4 123.0,594.4 127.0,598.4 130.9,596.4 136.8,596.4 141.7,598.4 146.7,600.4 150.6,601.7 153.5,589.5 157.5,588.1 161.4,589.1 167.3,594.4 170.3,591.9 174.2,600.4 178.1,602.9 182.1,599.8 186.0,597.4 190.0,600.4 193.9,597.4 197.8,595.0 202.8,591.9 206.7,591.9 210.6,595.4 218.5,601.3 222.4,595.4 226.4,590.5 230.3,591.1 238.2,589.9 242.5,582.6 246.5,593.5 250.0,591.1 253.9,593.9 257.9,598.4 262.8,604.3 268.7,603.3 274.6,613.5 278.5,612.2 282.5,614.7 286.4,609.2 290.4,614.7 295.3,608.2 301.2,606.3 306.1,605.3 313.0,606.3 316.9,605.3 319.0,605.3 322.9,607.2 326.8,607.2 329.8,611.6 333.7,613.1 337.7,604.9 341.6,602.3 345.5,601.3 350.4,601.7 355.4,605.3 359.3,607.2 362.3,608.2 366.2,607.2 374.1,607.2 378.0,621.0 381.9,621.4 385.9,623.4 389.8,625.4 394.7,618.7 398.7,617.5 402.6,620.0 406.6,614.7 410.5,619.4 414.4,619.1 418.4,617.5 426.2,617.5 430.2,620.0 434.1,608.2 438.0,608.2 442.0,599.8 445.9,601.7 449.9,607.2 457.7,607.2 462.7,603.7 466.6,612.2 471.5,609.2 477.4,611.6 482.3,621.4 490.2,608.2 495.1,608.2 502.0,613.5 506.0,616.1 510.9,611.6 514.8,612.2 519.7,612.8 522.7,615.1 526.6,618.7 530.6,618.7 534.5,619.4 538.4,613.5 542.4,612.8 547.3,617.1 550.3,615.5 554.2,621.4 558.1,622.0 563.1,625.4 567.0,625.4 574.9,629.3 578.8,627.9 582.7,621.4 586.7,622.6 590.6,623.0 594.5,624.0 598.5,614.7 603.4,618.7 606.4,619.4 610.3,617.5 615.2,617.5 619.1,622.6 626.6,629.9 631.9,625.0 637.9,620.0 642.8,610.2 646.8,614.1 650.7,604.3 654.6,600.4 660.5,600.4 666.4,605.3 670.4,602.3 678.3,617.1 683.2,613.1 686.1,613.5 690.7,618.1 695.0,615.5 699.9,615.1 702.9,613.1 706.8,620.0 710.7,620.0 714.7,606.3 718.6,606.9 722.6,611.6 726.5,610.2 731.4,613.1 735.3,613.5 742.2,616.7 746.6,620.0 750.1,613.5 754.0,612.2 758.0,612.2 761.9,604.3 765.9,604.3 770.8,599.4 774.7,600.4 778.7,605.3 783.6,605.7 789.5,608.2 795.4,616.1 801.3,620.0 806.2,622.6 810.1,611.6 814.1,614.1 818.0,610.8 822.0,612.8 825.9,611.2 828.9,612.2 833.8,616.7 838.7,619.1 842.6,618.1 846.6,613.1 850.5,615.1 854.4,616.7 858.4,608.8 862.3,607.2 866.3,608.8 871.2,611.6 878.1,610.2 882.4,607.2 886.9,611.6 891.8,614.1 896.8,617.5 902.1,620.6 906.6,617.5 911.5,617.1 915.5,615.1 918.4,608.2 922.4,608.8 927.3,609.2 932.2,611.6 935.1,612.8 939.1,616.1 943.0,614.1 948.0,612.2 951.0,610.8 955.9,604.3 958.8,603.3 962.8,606.3 966.7,611.2 970.6,611.2 974.6,603.3 978.5,606.9 982.4,611.6 987.4,614.1 990.3,612.8 994.3,611.6 998.2,621.0 1002.1,624.0 1006.7,617.1 1010.6,612.8 1013.9,615.1 1017.9,611.6 1021.8,608.8 1026.7,612.2 1030.7,610.2 1034.6,608.2 1037.6,605.7 1042.5,603.7 1046.4,599.4 1050.4,604.9 1054.3,609.2 1058.2,607.2 1062.2,599.8 1066.1,598.4 1071.0,600.4 1074.4,606.3 1078.3,599.0 1082.8,604.3 1086.8,611.2 1089.7,609.2 1094.7,602.3 1099.6,605.3 1102.5,605.3 1106.5,601.7 1110.4,604.3 1114.3,605.3 1118.3,609.2 1122.8,613.1 1126.1,611.6 1131.1,613.1 1138.0,612.2 1142.9,615.1 1146.8,608.8 1150.8,601.7 1154.7,596.4 1158.6,600.4 1162.6,598.4 1166.5,595.8 1170.4,599.4 1174.4,601.3 1178.3,599.4 1183.2,595.4 1186.6,593.5 1190.5,599.0 1194.5,596.4 1199.0,598.4 1202.9,597.0 1206.9,587.2 1210.8,589.1 1214.7,583.2 1218.7,590.5 1222.6,592.5 1226.5,599.4 1230.5,596.4 1234.4,597.4 1237.4,596.4 1241.3,597.0 1246.2,594.4 1250.2,596.4 1253.5,594.4" fill="none" stroke="#1e90ff" stroke-width="1"/>
</g>
<text x="6" y="565.5" font-size="10" fill="#000" stroke="#000" stroke-width="0.2" textLength="67.7" lengthAdjust="spacingAndGlyphs">RSI(14) 58.3899</text>
<rect x="1579" y="582" width="2" height="1" fill="#000"/>
<rect x="1579" y="619" width="2" height="1" fill="#000"/>
<text x="1582" y="563" font-size="10" fill="#000" stroke="#000" stroke-width="0.2" textLength="15" lengthAdjust="spacingAndGlyphs">100</text>
<text x="1582" y="586" font-size="10" fill="#000" stroke="#000" stroke-width="0.2" textLength="10" lengthAdjust="spacingAndGlyphs">70</text>
<text x="1582" y="623" font-size="10" fill="#000" stroke="#000" stroke-width="0.2" textLength="10" lengthAdjust="spacingAndGlyphs">30</text>
<text x="1582" y="644.5" font-size="10" fill="#000" stroke="#000" stroke-width="0.2" textLength="5" lengthAdjust="spacingAndGlyphs">0</text>
<rect x="1" y="650" width="1578" height="1" fill="#000"/>
<rect x="1" y="650" width="1" height="97" fill="#000"/>
<rect x="1" y="746" width="1578" height="1" fill="#000"/>
<rect x="1578" y="650" width="1" height="97" fill="#000"/>
<g shape-rendering="crispEdges"><rect x="2" y="684" width="1" height="16" fill="#c0c0c0"/><rect x="6" y="673" width="1" height="27" fill="#c0c0c0"/><rect x="10" y="666" width="1" height="34" fill="#c0c0c0"/><rect x="14" y="663" width="1" height="37" fill="#c0c0c0"/><rect x="18" y="661" width="1" height="39" fill="#c0c0c0"/><rect x="22" y="661" width="1" height="39" fill="#c0c0c0"/><rect x="26" y="662" width="1" height="38" fill="#c0c0c0"/><rect x="30" y="661" width="1" height="39" fill="#c0c0c0"/><rect x="34" y="660" width="1" height="40" fill="#c0c0c0"/><rect x="38" y="661" width="1" height="39" fill="#c0c0c0"/><rect x="42" y="661" width="1" height="39" fill="#c0c0c0"/><rect x="46" y="666" width="1" height="34" fill="#c0c0c0"/><rect x="50" y="667" width="1" height="33" fill="#c0c0c0"/><rect x="54" y="670" width="1" height="30" fill="#c0c0c0"/><rect x="58" y="670" width="1" height="30" fill="#c0c0c0"/><rect x="62" y="671" width="1" height="29" fill="#c0c0c0"/><rect x="66" y="672" width="1" height="28" fill="#c0c0c0"/><rect x="70" y="678" width="1" height="22" fill="#c0c0c0"/><rect x="74" y="682" width="1" height="18" fill="#c0c0c0"/><rect x="78" y="687" width="1" height="13" fill="#c0c0c0"/><rect x="82" y="690" width="1" height="10" fill="#c0c0c0"/><rect x="86" y="694" width="1" height="6" fill="#c0c0c0"/><rect x="90" y="696" width="1" height="4" fill="#c0c0c0"/><rect x="94" y="699" width="1" height="1" fill="#c0c0c0"/><rect x="98" y="698" width="1" height="2" fill="#c0c0c0"/><rect x="102" y="697" width="1" height="3" fill="#c0c0c0"/><rect x="106" y="696" width="1" height="4" fill="#c0c0c0"/><rect x="110" y="695" width="1" height="5" fill="#c0c0c0"/><rect x="114" y="695" width="1" height="5" fill="#c0c0c0"/><rect x="118" y="692" width="1" height="8" fill="#c0c0c0"/><rect x="122" y="692" width="1" height="8" fill="#c0c0c0"/><rect x="126" y="692" width="1" height="8" fill="#c0c0c0"/><rect x="130" y="692" width="1" height="8" fill="#c0c0c0"/><rect x="134" y="691" width="1" height="9" fill="#c0c0c0"/><rect x="138" y="691" width="1" height="9" fill="#c0c0c0"/><rect x="142" y="692" width="1" height="8" fill="#c0c0c0"/><rect x="146" y="692" width="1" height="8" fill="#c0c0c0"/><rect x="150" y="695" width="1" height="5" fill="#c0c0c0"/><rect x="154" y="692" width="1" height="8" fill="#c0c0c0"/><rect x="158" y="687" width="1" height="13" fill="#c0c0c0"/><rect x="162" y="685" width="1" height="15" fill="#c0c0c0"/><rect x="166" y="685" width="1" height="15" fill="#c0c0c0"/><rect x="170" y="684" width="1" height="16" fill="#c0c0c0"/><rect x="174" y="686" width="1" height="14" fill="#c0c0c0"/><rect x="178" y="688" width="1" height="12" fill="#c0c0c0"/><rect x="182" y="691" width="1" height="9" fill="#c0c0c0"/><rect x="186" y="691" width="1" height="9" fill="#c0c0c0"/><rect x="190" y="692" width="1" height="8" fill="#c0c0c0"/><rect x="194" y="692" width="1" height="8" fill="#c0c0c0"/><rect x="198" y="691" width="1" height="9" fill="#c0c0c0"/><rect x="202" y="689" width="1" height="11" fill="#c0c0c0"/><rect x="206" y="689" width="1" height="11" fill="#c0c0c0"/><rect x="210" y="689" width="1" height="11" fill="#c0c0c0"/><rect x="214" y="690" width="1" height="10" fill="#c0c0c0"/><rect x="218" y="691" width="1" height="9" fill="#c0c0c0"/><rect x="222" y="690" width="1" height="10" fill="#c0c0c0"/><rect x="226" y="689" width="1" height="11" fill="#c0c0c0"/><rect x="230" y="687" width="1" height="13" fill="#c0c0c0"/><rect x="234" y="686" width="1" height="14" fill="#c0c0c0"/><rect x="238" y="685" width="1" height="15" fill="#c0c0c0"/><rect x="242" y="681" width="1" height="19" fill="#c0c0c0"/><rect x="246" y="681" width="1" height="19" fill="#c0c0c0"/><rect x="250" y="680" width="1" height="20" fill="#c0c0c0"/><rect x="254" y="681" width="1" height="19" fill="#c0c0c0"/><rect x="258" y="682" width="1" height="18" fill="#c0c0c0"/><rect x="262" y="688" width="1" height="12" fill="#c0c0c0"/><rect x="266" y="691" width="1" height="9" fill="#c0c0c0"/><rect x="270" y="693" width="1" height="7" fill="#c0c0c0"/><rect x="274" y="699" width="1" height="1" fill="#c0c0c0"/><rect x="278" y="699" width="1" height="5" fill="#c0c0c0"/><rect x="282" y="699" width="1" height="10" fill="#c0c0c0"/><rect x="286" y="699" width="1" height="11" fill="#c0c0c0"/><rect x="290" y="699" width="1" height="15" fill="#c0c0c0"/><rect x="294" y="699" width="1" height="17" fill="#c0c0c0"/><rect x="298" y="699" width="1" height="17" fill="#c0c0c0"/><rect x="302" y="699" width="1" height="14" fill="#c0c0c0"/><rect x="306" y="699" width="1" height="15" fill="#c0c0c0"/><rect x="310" y="699" width="1" height="15" fill="#c0c0c0"/><rect x="314" y="699" width="1" height="14" fill="#c0c0c0"/><rect x="318" y="699" width="1" height="13" fill="#c0c0c0"/><rect x="322" y="699" width="1" height="13" fill="#c0c0c0"/><rect x="326" y="699" width="1" height="13" fill="#c0c0c0"/><rect x="330" y="699" width="1" height="13" fill="#c0c0c0"/><rect x="334" y="699" width="1" height="13" fill="#c0c0c0"/><rect x="338" y="699" width="1" height="12" fill="#c0c0c0"/><rect x="342" y="699" width="1" height="13" fill="#c0c0c0"/><rect x="346" y="699" width="1" height="11" fill="#c0c0c0"/><rect x="350" y="699" width="1" height="10" fill="#c0c0c0"/><rect x="354" y="699" width="1" height="8" fill="#c0c0c0"/><rect x="358" y="699" width="1" height="9" fill="#c0c0c0"/><rect x="362" y="699" width="1" height="10" fill="#c0c0c0"/><rect x="366" y="699" width="1" height="9" fill="#c0c0c0"/><rect x="370" y="699" width="1" height="9" fill="#c0c0c0"/><rect x="374" y="699" width="1" height="11" fill="#c0c0c0"/><rect x="378" y="699" width="1" height="13" fill="#c0c0c0"/><rect x="382" y="699" width="1" height="17" fill="#c0c0c0"/><rect x="386" y="699" width="1" height="20" fill="#c0c0c0"/><rect x="390" y="699" width="1" height="23" fill="#c0c0c0"/><rect x="394" y="699" width="1" height="24" fill="#c0c0c0"/><rect x="398" y="699" width="1" height="25" fill="#c0c0c0"/><rect x="402" y="699" width="1" height="26" fill="#c0c0c0"/><rect x="406" y="699" width="1" height="27" fill="#c0c0c0"/><rect x="410" y="699" width="1" height="28" fill="#c0c0c0"/><rect x="414" y="699" width="1" height="28" fill="#c0c0c0"/><rect x="418" y="699" width="1" height="27" fill="#c0c0c0"/><rect x="422" y="699" width="1" height="27" fill="#c0c0c0"/><rect x="426" y="699" width="1" height="27" fill="#c0c0c0"/><rect x="430" y="699" width="1" height="28" fill="#c0c0c0"/><rect x="434" y="699" width="1" height="25" fill="#c0c0c0"/><rect x="438" y="699" width="1" height="23" fill="#c0c0c0"/><rect x="442" y="699" width="1" height="20" fill="#c0c0c0"/><rect x="446" y="699" width="1" height="18" fill="#c0c0c0"/><rect x="450" y="699" width="1" height="17" fill="#c0c0c0"/><rect x="454" y="699" width="1" height="15" fill="#c0c0c0"/><rect x="458" y="699" width="1" height="14" fill="#c0c0c0"/><rect x="462" y="699" width="1" height="13" fill="#c0c0c0"/><rect x="466" y="699" width="1" height="14" fill="#c0c0c0"/><rect x="470" y="699" width="1" height="15" fill="#c0c0c0"/><rect x="474" y="699" width="1" height="15" fill="#c0c0c0"/><rect x="478" y="699" width="1" height="17" fill="#c0c0c0"/><rect x="482" y="699" width="1" height="20" fill="#c0c0c0"/><rect x="486" y="699" width="1" height="22" fill="#c0c0c0"/><rect x="490" y="699" width="1" height="20" fill="#c0c0c0"/><rect x="494" y="699" width="1" height="20" fill="#c0c0c0"/><rect x="498" y="699" width="1" height="20" fill="#c0c0c0"/><rect x="502" y="699" width="1" height="22" fill="#c0c0c0"/><rect x="506" y="699" width="1" height="24" fill="#c0c0c0"/><rect x="510" y="699" width="1" height="23" fill="#c0c0c0"/><rect x="514" y="699" width="1" height="23" fill="#c0c0c0"/><rect x="518" y="699" width="1" height="23" fill="#c0c0c0"/><rect x="522" y="699" width="1" height="23" fill="#c0c0c0"/><rect x="526" y="699" width="1" height="25" fill="#c0c0c0"/><rect x="530" y="699" width="1" height="26" fill="#c0c0c0"/><rect x="534" y="699" width="1" height="28" fill="#c0c0c0"/><rect x="538" y="699" width="1" height="27" fill="#c0c0c0"/><rect x="542" y="699" width="1" height="26" fill="#c0c0c0"/><rect x="546" y="699" width="1" height="26" fill="#c0c0c0"/><rect x="550" y="699" width="1" height="27" fill="#c0c0c0"/><rect x="554" y="699" width="1" height="28" fill="#c0c0c0"/><rect x="558" y="699" width="1" height="28" fill="#c0c0c0"/><rect x="562" y="699" width="1" height="32" fill="#c0c0c0"/><rect x="566" y="699" width="1" height="33" fill="#c0c0c0"/><rect x="570" y="699" width="1" height="35" fill="#c0c0c0"/><rect x="574" y="699" width="1" height="38" fill="#c0c0c0"/><rect x="578" y="699" width="1" height="40" fill="#c0c0c0"/><rect x="582" y="699" width="1" height="39" fill="#c0c0c0"/><rect x="586" y="699" width="1" height="39" fill="#c0c0c0"/><rect x="590" y="699" width="1" height="39" fill="#c0c0c0"/><rect x="594" y="699" width="1" height="38" fill="#c0c0c0"/><rect x="598" y="699" width="1" height="37" fill="#c0c0c0"/><rect x="602" y="699" width="1" height="36" fill="#c0c0c0"/><rect x="606" y="699" width="1" height="35" fill="#c0c0c0"/><rect x="610" y="699" width="1" height="34" fill="#c0c0c0"/><rect x="614" y="699" width="1" height="32" fill="#c0c0c0"/><rect x="618" y="699" width="1" height="33" fill="#c0c0c0"/><rect x="622" y="699" width="1" height="35" fill="#c0c0c0"/><rect x="626" y="699" width="1" height="41" fill="#c0c0c0"/><rect x="630" y="699" width="1" height="42" fill="#c0c0c0"/><rect x="634" y="699" width="1" height="43" fill="#c0c0c0"/><rect x="638" y="699" width="1" height="42" fill="#c0c0c0"/><rect x="642" y="699" width="1" height="37" fill="#c0c0c0"/><rect x="646" y="699" width="1" height="37" fill="#c0c0c0"/><rect x="650" y="699" width="1" height="33" fill="#c0c0c0"/><rect x="654" y="699" width="1" height="28" fill="#c0c0c0"/><rect x="658" y="699" width="1" height="23" fill="#c0c0c0"/><rect x="662" y="699" width="1" height="20" fill="#c0c0c0"/><rect x="666" y="699" width="1" height="18" fill="#c0c0c0"/><rect x="670" y="699" width="1" height="16" fill="#c0c0c0"/><rect x="674" y="699" width="1" height="18" fill="#c0c0c0"/><rect x="678" y="699" width="1" height="22" fill="#c0c0c0"/><rect x="682" y="699" width="1" height="24" fill="#c0c0c0"/><rect x="686" y="699" width="1" height="25" fill="#c0c0c0"/><rect x="690" y="699" width="1" height="30" fill="#c0c0c0"/><rect x="694" y="699" width="1" height="32" fill="#c0c0c0"/><rect x="698" y="699" width="1" height="33" fill="#c0c0c0"/><rect x="702" y="699" width="1" height="33" fill="#c0c0c0"/><rect x="706" y="699" width="1" height="38" fill="#c0c0c0"/><rect x="710" y="699" width="1" height="41" fill="#c0c0c0"/><rect x="714" y="699" width="1" height="37" fill="#c0c0c0"/><rect x="718" y="699" width="1" height="35" fill="#c0c0c0"/><rect x="722" y="699" width="1" height="34" fill="#c0c0c0"/><rect x="726" y="699" width="1" height="34" fill="#c0c0c0"/><rect x="730" y="699" width="1" height="36" fill="#c0c0c0"/><rect x="734" y="699" width="1" height="37" fill="#c0c0c0"/><rect x="738" y="699" width="1" height="38" fill="#c0c0c0"/><rect x="742" y="699" width="1" height="39" fill="#c0c0c0"/><rect x="746" y="699" width="1" height="42" fill="#c0c0c0"/><rect x="750" y="699" width="1" height="42" fill="#c0c0c0"/><rect x="754" y="699" width="1" height="40" fill="#c0c0c0"/><rect x="758" y="699" width="1" height="38" fill="#c0c0c0"/><rect x="762" y="699" width="1" height="35" fill="#c0c0c0"/><rect x="766" y="699" width="1" height="31" fill="#c0c0c0"/><rect x="770" y="699" width="1" height="26" fill="#c0c0c0"/><rect x="774" y="699" width="1" height="22" fill="#c0c0c0"/><rect x="778" y="699" width="1" height="20" fill="#c0c0c0"/><rect x="782" y="699" width="1" height="19" fill="#c0c0c0"/><rect x="786" y="699" width="1" height="19" fill="#c0c0c0"/><rect x="790" y="699" width="1" height="19" fill="#c0c0c0"/><rect x="794" y="699" width="1" height="22" fill="#c0c0c0"/><rect x="798" y="699" width="1" height="27" fill="#c0c0c0"/><rect x="802" y="699" width="1" height="33" fill="#c0c0c0"/><rect x="806" y="699" width="1" height="37" fill="#c0c0c0"/><rect x="810" y="699" width="1" height="37" fill="#c0c0c0"/><rect x="814" y="699" width="1" height="38" fill="#c0c0c0"/><rect x="818" y="699" width="1" height="37" fill="#c0c0c0"/><rect x="822" y="699" width="1" height="37" fill="#c0c0c0"/><rect x="826" y="699" width="1" height="37" fill="#c0c0c0"/><rect x="830" y="699" width="1" height="38" fill="#c0c0c0"/><rect x="834" y="699" width="1" height="40" fill="#c0c0c0"/><rect x="838" y="699" width="1" height="41" fill="#c0c0c0"/><rect x="842" y="699" width="1" height="43" fill="#c0c0c0"/><rect x="846" y="699" width="1" height="42" fill="#c0c0c0"/><rect x="850" y="699" width="1" height="41" fill="#c0c0c0"/><rect x="854" y="699" width="1" height="40" fill="#c0c0c0"/><rect x="858" y="699" width="1" height="38" fill="#c0c0c0"/><rect x="862" y="699" width="1" height="36" fill="#c0c0c0"/><rect x="866" y="699" width="1" height="34" fill="#c0c0c0"/><rect x="870" y="699" width="1" height="34" fill="#c0c0c0"/><rect x="874" y="699" width="1" height="32" fill="#c0c0c0"/><rect x="878" y="699" width="1" height="30" fill="#c0c0c0"/><rect x="882" y="699" width="1" height="28" fill="#c0c0c0"/><rect x="886" y="699" width="1" height="28" fill="#c0c0c0"/><rect x="890" y="699" width="1" height="28" fill="#c0c0c0"/><rect x="894" y="699" width="1" height="28" fill="#c0c0c0"/><rect x="898" y="699" width="1" height="28" fill="#c0c0c0"/><rect x="902" y="699" width="1" height="28" fill="#c0c0c0"/><rect x="906" y="699" width="1" height="29" fill="#c0c0c0"/><rect x="910" y="699" width="1" height="28" fill="#c0c0c0"/><rect x="914" y="699" width="1" height="27" fill="#c0c0c0"/><rect x="918" y="699" width="1" height="26" fill="#c0c0c0"/><rect x="922" y="699" width="1" height="25" fill="#c0c0c0"/><rect x="926" y="699" width="1" height="26" fill="#c0c0c0"/><rect x="930" y="699" width="1" height="24" fill="#c0c0c0"/><rect x="934" y="699" width="1" height="24" fill="#c0c0c0"/><rect x="938" y="699" width="1" height="25" fill="#c0c0c0"/><rect x="942" y="699" width="1" height="24" fill="#c0c0c0"/><rect x="946" y="699" width="1" height="23" fill="#c0c0c0"/><rect x="950" y="699" width="1" height="23" fill="#c0c0c0"/><rect x="954" y="699" width="1" height="20" fill="#c0c0c0"/><rect x="958" y="699" width="1" height="18" fill="#c0c0c0"/><rect x="962" y="699" width="1" height="17" fill="#c0c0c0"/><rect x="966" y="699" width="1" height="17" fill="#c0c0c0"/><rect x="970" y="699" width="1" height="16" fill="#c0c0c0"/><rect x="974" y="699" width="1" height="15" fill="#c0c0c0"/><rect x="978" y="699" width="1" height="14" fill="#c0c0c0"/><rect x="982" y="699" width="1" height="15" fill="#c0c0c0"/><rect x="986" y="699" width="1" height="16" fill="#c0c0c0"/><rect x="990" y="699" width="1" height="17" fill="#c0c0c0"/><rect x="994" y="699" width="1" height="18" fill="#c0c0c0"/><rect x="998" y="699" width="1" height="22" fill="#c0c0c0"/><rect x="1002" y="699" width="1" height="26" fill="#c0c0c0"/><rect x="1006" y="699" width="1" height="28" fill="#c0c0c0"/><rect x="1010" y="699" width="1" height="27" fill="#c0c0c0"/><rect x="1014" y="699" width="1" height="28" fill="#c0c0c0"/><rect x="1018" y="699" width="1" height="27" fill="#c0c0c0"/><rect x="1022" y="699" width="1" height="25" fill="#c0c0c0"/><rect x="1026" y="699" width="1" height="25" fill="#c0c0c0"/><rect x="1030" y="699" width="1" height="24" fill="#c0c0c0"/><rect x="1034" y="699" width="1" height="23" fill="#c0c0c0"/><rect x="1038" y="699" width="1" height="21" fill="#c0c0c0"/><rect x="1042" y="699" width="1" height="18" fill="#c0c0c0"/><rect x="1046" y="699" width="1" height="15" fill="#c0c0c0"/><rect x="1050" y="699" width="1" height="14" fill="#c0c0c0"/><rect x="1054" y="699" width="1" height="13" fill="#c0c0c0"/><rect x="1058" y="699" width="1" height="14" fill="#c0c0c0"/><rect x="1062" y="699" width="1" height="12" fill="#c0c0c0"/><rect x="1066" y="699" width="1" height="9" fill="#c0c0c0"/><rect x="1070" y="699" width="1" height="8" fill="#c0c0c0"/><rect x="1074" y="699" width="1" height="8" fill="#c0c0c0"/><rect x="1078" y="699" width="1" height="7" fill="#c0c0c0"/><rect x="1082" y="699" width="1" height="7" fill="#c0c0c0"/><rect x="1086" y="699" width="1" height="9" fill="#c0c0c0"/><rect x="1090" y="699" width="1" height="10" fill="#c0c0c0"/><rect x="1094" y="699" width="1" height="9" fill="#c0c0c0"/><rect x="1098" y="699" width="1" height="9" fill="#c0c0c0"/><rect x="1102" y="699" width="1" height="9" fill="#c0c0c0"/><rect x="1106" y="699" width="1" height="9" fill="#c0c0c0"/><rect x="1110" y="699" width="1" height="9" fill="#c0c0c0"/><rect x="1114" y="699" width="1" height="10" fill="#c0c0c0"/><rect x="1118" y="699" width="1" height="12" fill="#c0c0c0"/><rect x="1122" y="699" width="1" height="13" fill="#c0c0c0"/><rect x="1126" y="699" width="1" height="15" fill="#c0c0c0"/><rect x="1130" y="699" width="1" height="17" fill="#c0c0c0"/><rect x="1134" y="699" width="1" height="19" fill="#c0c0c0"/><rect x="1138" y="699" width="1" height="19" fill="#c0c0c0"/><rect x="1142" y="699" width="1" height="20" fill="#c0c0c0"/><rect x="1146" y="699" width="1" height="20" fill="#c0c0c0"/><rect x="1150" y="699" width="1" height="18" fill="#c0c0c0"/><rect x="1154" y="699" width="1" height="14" fill="#c0c0c0"/><rect x="1158" y="699" width="1" height="10" fill="#c0c0c0"/><rect x="1162" y="699" width="1" height="9" fill="#c0c0c0"/><rect x="1166" y="699" width="1" height="6" fill="#c0c0c0"/><rect x="1170" y="699" width="1" height="3" fill="#c0c0c0"/><rect x="1174" y="699" width="1" height="3" fill="#c0c0c0"/><rect x="1178" y="699" width="1" height="2" fill="#c0c0c0"/><rect x="1182" y="699" width="1" height="2" fill="#c0c0c0"/><rect x="1186" y="697" width="1" height="3" fill="#c0c0c0"/><rect x="1190" y="697" width="1" height="3" fill="#c0c0c0"/><rect x="1194" y="696" width="1" height="4" fill="#c0c0c0"/><rect x="1198" y="695" width="1" height="5" fill="#c0c0c0"/><rect x="1202" y="694" width="1" height="6" fill="#c0c0c0"/><rect x="1206" y="691" width="1" height="9" fill="#c0c0c0"/><rect x="1210" y="688" width="1" height="12" fill="#c0c0c0"/><rect x="1214" y="683" width="1" height="17" fill="#c0c0c0"/><rect x="1218" y="681" width="1" height="19" fill="#c0c0c0"/><rect x="1222" y="681" width="1" height="19" fill="#c0c0c0"/><rect x="1226" y="684" width="1" height="16" fill="#c0c0c0"/><rect x="1230" y="684" width="1" height="16" fill="#c0c0c0"/><rect x="1234" y="685" width="1" height="15" fill="#c0c0c0"/><rect x="1238" y="686" width="1" height="14" fill="#c0c0c0"/><rect x="1242" y="686" width="1" height="14" fill="#c0c0c0"/><rect x="1246" y="687" width="1" height="13" fill="#c0c0c0"/><rect x="1250" y="688" width="1" height="12" fill="#c0c0c0"/><rect x="1254" y="687" width="1" height="13" fill="#c0c0c0"/></g>
<g shape-rendering="crispEdges">
<polyline points="2.0,700.2 9.8,689.4 19.7,678.6 29.5,668.7 36.4,661.8 45.3,660.9 54.1,661.4 63.0,663.8 70.9,667.7 78.7,673.7 86.6,678.6 94.5,685.5 102.4,690.4 110.2,693.9 118.1,694.9 128.0,694.3 137.8,692.9 147.6,692.4 157.5,691.0 167.3,688.4 177.2,687.4 187.0,687.4 196.9,687.4 202.8,689.0 212.6,689.4 222.4,689.8 232.3,688.4 242.1,687.0 250.0,685.1 257.9,683.5 267.7,683.1 275.6,685.9 283.5,691.4 291.3,699.2 299.2,706.1 307.1,710.1 316.9,712.6 325.8,713.4 335.7,712.0 345.5,712.0 355.4,710.1 365.2,709.5 375.1,708.1 382.9,709.5 388.8,711.1 398.7,715.0 408.5,720.5 418.4,724.8 428.2,725.2 434.1,726.4 444.0,723.9 453.8,720.9 463.6,717.0 473.5,715.0 479.4,713.4 487.3,714.6 497.1,715.4 507.0,718.5 516.8,720.5 526.6,721.9 538.4,723.3 548.3,724.4 558.1,725.8 568.0,726.4 575.8,729.8 585.7,732.7 595.5,735.7 603.4,736.3 613.2,734.7 623.1,733.3 632.9,734.7 639.9,736.3 647.7,737.0 657.6,735.1 665.5,730.7 675.3,723.3 683.2,720.9 689.1,720.5 695.0,721.3 702.9,723.9 710.7,729.8 718.6,732.7 728.5,733.7 738.3,734.3 750.1,735.7 760.0,736.3 769.8,734.7 779.6,730.3 789.5,724.4 797.4,721.3 805.2,721.9 815.1,727.2 824.9,731.7 834.8,735.1 844.6,737.0 854.4,738.2 864.3,738.2 872.2,736.3 882.0,733.7 891.8,730.3 901.7,728.8 911.5,729.2 923.3,729.2 933.2,728.4 943.0,725.8 950.0,724.4 957.8,721.3 967.7,718.5 977.5,716.0 987.4,714.6 995.2,714.6 1003.1,716.0 1011.0,718.5 1018.9,721.9 1028.7,722.9 1034.6,724.4 1044.5,721.9 1054.3,718.5 1064.1,714.6 1074.0,711.1 1083.8,709.1 1093.7,708.1 1105.5,707.5 1113.4,708.1 1121.2,709.1 1131.1,710.7 1140.9,713.0 1148.8,716.0 1156.7,716.6 1164.5,714.6 1174.4,710.7 1184.2,704.8 1194.1,700.2 1203.9,697.7 1211.8,694.9 1217.7,691.4 1223.6,689.0 1231.5,685.9 1239.4,684.5 1245.3,683.5 1253.1,684.5" fill="none" stroke="#ff0000" stroke-width="1" stroke-dasharray="3 3"/>
</g>
<text x="6.7" y="663.4" font-size="10" fill="#000" stroke="#000" stroke-width="0.2" textLength="146.8" lengthAdjust="spacingAndGlyphs">MACD(12,26,9) 0.011454 0.012848</text>
<rect x="1579" y="700" width="2" height="1" fill="#000"/>
<text x="1582" y="661.5" font-size="10" fill="#000" stroke="#000" stroke-width="0.2" textLength="37" lengthAdjust="spacingAndGlyphs">0.042275</text>
<text x="1582" y="703.5" font-size="10" fill="#000" stroke="#000" stroke-width="0.2" textLength="18" lengthAdjust="spacingAndGlyphs">0.00</text>
<text x="1581.5" y="743" font-size="10" fill="#000" stroke="#000" stroke-width="0.2" textLength="37" lengthAdjust="spacingAndGlyphs">-0.04148</text>
<rect x="2" y="747" width="1" height="3" fill="#000"/>
<text x="1.5" y="759" font-size="10" fill="#000" stroke="#000" stroke-width="0.2" textLength="51.0" lengthAdjust="spacingAndGlyphs">18 Mar 2020</text>
<rect x="66" y="747" width="1" height="3" fill="#000"/>
<text x="65.5" y="759" font-size="10" fill="#000" stroke="#000" stroke-width="0.2" textLength="43.9" lengthAdjust="spacingAndGlyphs">6 Apr 2020</text>
<rect x="130" y="747" width="1" height="3" fill="#000"/>
<text x="129.5" y="759" font-size="10" fill="#000" stroke="#000" stroke-width="0.2" textLength="49.0" lengthAdjust="spacingAndGlyphs">24 Apr 2020</text>
<rect x="194" y="747" width="1" height="3" fill="#000"/>
<text x="193.5" y="759" font-size="10" fill="#000" stroke="#000" stroke-width="0.2" textLength="52.5" lengthAdjust="spacingAndGlyphs">13 May 2020</text>
<rect x="258" y="747" width="1" height="3" fill="#000"/>
<text x="257.5" y="759" font-size="10" fill="#000" stroke="#000" stroke-width="0.2" textLength="45.0" lengthAdjust="spacingAndGlyphs">1 Jun 2020</text>
<rect x="322" y="747" width="1" height="3" fill="#000"/>
<text x="321.5" y="759" font-size="10" fill="#000" stroke="#000" stroke-width="0.2" textLength="50.0" lengthAdjust="spacingAndGlyphs">19 Jun 2020</text>
<rect x="386" y="747" width="1" height="3" fill="#000"/>
<text x="385.5" y="759" font-size="10" fill="#000" stroke="#000" stroke-width="0.2" textLength="41.9" lengthAdjust="spacingAndGlyphs">8 Jul 2020</text>
<rect x="450" y="747" width="1" height="3" fill="#000"/>
<text x="449.5" y="759" font-size="10" fill="#000" stroke="#000" stroke-width="0.2" textLength="47.0" lengthAdjust="spacingAndGlyphs">27 Jul 2020</text>
<rect x="514" y="747" width="1" height="3" fill="#000"/>
<text x="513.5" y="759" font-size="10" fill="#000" stroke="#000" stroke-width="0.2" textLength="51.0" lengthAdjust="spacingAndGlyphs">14 Aug 2020</text>
<rect x="578" y="747" width="1" height="3" fill="#000"/>
<text x="577.5" y="759" font-size="10" fill="#000" stroke="#000" stroke-width="0.2" textLength="46.5" lengthAdjust="spacingAndGlyphs">2 Sep 2020</text>
<rect x="642" y="747" width="1" height="3" fill="#000"/>
<text x="641.5" y="759" font-size="10" fill="#000" stroke="#000" stroke-width="0.2" textLength="51.5" lengthAdjust="spacingAndGlyphs">21 Sep 2020</text>
<rect x="706" y="747" width="1" height="3" fill="#000"/>
<text x="705.5" y="759" font-size="10" fill="#000" stroke="#000" stroke-width="0.2" textLength="44.4" lengthAdjust="spacingAndGlyphs">9 Oct 2020</text>
<rect x="770" y="747" width="1" height="3" fill="#000"/>
<text x="769.5" y="759" font-size="10" fill="#000" stroke="#000" stroke-width="0.2" textLength="49.5" lengthAdjust="spacingAndGlyphs">28 Oct 2020</text>
<rect x="834" y="747" width="1" height="3" fill="#000"/>
<text x="833.5" y="759" font-size="10" fill="#000" stroke="#000" stroke-width="0.2" textLength="51.5" lengthAdjust="spacingAndGlyphs">16 Nov 2020</text>
<rect x="898" y="747" width="1" height="3" fill="#000"/>
<text x="897.5" y="759" font-size="10" fill="#000" stroke="#000" stroke-width="0.2" textLength="46.5" lengthAdjust="spacingAndGlyphs">4 Dec 2020</text>
<rect x="962" y="747" width="1" height="3" fill="#000"/>
<text x="961.5" y="759" font-size="10" fill="#000" stroke="#000" stroke-width="0.2" textLength="51.5" lengthAdjust="spacingAndGlyphs">23 Dec 2020</text>
<rect x="1026" y="747" width="1" height="3" fill="#000"/>
<text x="1025.5" y="759" font-size="10" fill="#000" stroke="#000" stroke-width="0.2" textLength="50.0" lengthAdjust="spacingAndGlyphs">12 Jan 2021</text>
<rect x="1090" y="747" width="1" height="3" fill="#000"/>
<text x="1089.5" y="759" font-size="10" fill="#000" stroke="#000" stroke-width="0.2" textLength="50.0" lengthAdjust="spacingAndGlyphs">30 Jan 2021</text>
<rect x="1154" y="747" width="1" height="3" fill="#000"/>
<text x="1153.5" y="759" font-size="10" fill="#000" stroke="#000" stroke-width="0.2" textLength="51.0" lengthAdjust="spacingAndGlyphs">18 Feb 2021</text>
<rect x="1218" y="747" width="1" height="3" fill="#000"/>
<text x="1217.5" y="759" font-size="10" fill="#000" stroke="#000" stroke-width="0.2" textLength="45.9" lengthAdjust="spacingAndGlyphs">9 Mar 2021</text>
<rect x="0" y="769" width="1626" height="1" fill="#000"/>
<rect x="0" y="770" width="1625" height="19" fill="#f0f0f0"/>
<rect x="0" y="770" width="1625" height="1" fill="#ffffff"/>
<rect x="0" y="789" width="1626" height="1" fill="#ffffff"/>
<rect x="0" y="790" width="1626" height="2" fill="#f0f0f0"/>
<rect x="1624" y="770" width="1" height="19" fill="#e8e8e8"/>
<rect x="415" y="769" width="104" height="19" fill="#ffffff"/>
<rect x="415" y="769" width="1" height="19" fill="#000"/>
<rect x="518" y="769" width="1" height="19" fill="#000"/>
<rect x="415" y="787" width="104" height="1" fill="#000"/>
<text x="425.5" y="784" font-size="12.5" fill="#000" textLength="82.5" lengthAdjust="spacingAndGlyphs">USDCNH,Daily</text>
<text x="15" y="784" font-size="12.5" fill="#5f5f5f" textLength="81" lengthAdjust="spacingAndGlyphs">EURUSD,Daily</text>
<text x="117" y="784" font-size="12.5" fill="#5f5f5f" textLength="79" lengthAdjust="spacingAndGlyphs">USDCHF,Daily</text>
<text x="218" y="784" font-size="12.5" fill="#5f5f5f" textLength="82" lengthAdjust="spacingAndGlyphs">AUDUSD,Daily</text>
<text x="322" y="784" font-size="12.5" fill="#5f5f5f" textLength="81" lengthAdjust="spacingAndGlyphs">USDCAD,Daily</text>
<text x="531" y="784" font-size="12.5" fill="#5f5f5f" textLength="80" lengthAdjust="spacingAndGlyphs">EURUSD,Daily</text>
<text x="634" y="784" font-size="12.5" fill="#5f5f5f" textLength="68" lengthAdjust="spacingAndGlyphs">GBPUSD,H4</text>
<text x="726" y="784" font-size="12.5" fill="#5f5f5f" textLength="69" lengthAdjust="spacingAndGlyphs">XAUUSD,H4</text>
<text x="818" y="784" font-size="12.5" fill="#5f5f5f" textLength="50" lengthAdjust="spacingAndGlyphs">HK50,H1</text>
<text x="890" y="784" font-size="12.5" fill="#5f5f5f" textLength="57" lengthAdjust="spacingAndGlyphs">UK100,H1</text>
<text x="970" y="784" font-size="12.5" fill="#5f5f5f" textLength="57" lengthAdjust="spacingAndGlyphs">UK100,H1</text>
<text x="1050" y="784" font-size="12.5" fill="#5f5f5f" textLength="57" lengthAdjust="spacingAndGlyphs">GER30,H1</text>
<text x="1129" y="784" font-size="12.5" fill="#5f5f5f" textLength="55" lengthAdjust="spacingAndGlyphs">FRA40,H1</text>
<text x="1205" y="784" font-size="12.5" fill="#5f5f5f" textLength="63" lengthAdjust="spacingAndGlyphs">USOil,Daily</text>
<text x="1289" y="784" font-size="12.5" fill="#5f5f5f" textLength="63" lengthAdjust="spacingAndGlyphs">USDJPY,H1</text>
<text x="1374" y="784" font-size="12.5" fill="#5f5f5f" textLength="73" lengthAdjust="spacingAndGlyphs">DJ30,Weekly</text>
<text x="1469" y="784" font-size="12.5" fill="#5f5f5f" textLength="79" lengthAdjust="spacingAndGlyphs">CHINA300,H1</text>
<rect x="107" y="773" width="1" height="12" fill="#555555"/>
<rect x="207" y="773" width="1" height="12" fill="#555555"/>
<rect x="312" y="773" width="1" height="12" fill="#555555"/>
<rect x="624" y="773" width="1" height="12" fill="#555555"/>
<rect x="715" y="773" width="1" height="12" fill="#555555"/>
<rect x="807" y="773" width="1" height="12" fill="#555555"/>
<rect x="879" y="773" width="1" height="12" fill="#555555"/>
<rect x="960" y="773" width="1" height="12" fill="#555555"/>
<rect x="1039" y="773" width="1" height="12" fill="#555555"/>
<rect x="1119" y="773" width="1" height="12" fill="#555555"/>
<rect x="1195" y="773" width="1" height="12" fill="#555555"/>
<rect x="1279" y="773" width="1" height="12" fill="#555555"/>
<rect x="1364" y="773" width="1" height="12" fill="#555555"/>
<rect x="1459" y="773" width="1" height="12" fill="#555555"/>
<rect x="1560" y="773" width="1" height="12" fill="#555555"/>
<svg x="1569" y="770" width="19" height="19" overflow="hidden"><text x="0" y="14" font-size="12" fill="#6d6d6d">USOil</text></svg>
<path d="M1598,775 L1598,781 L1595,778 Z" fill="#a0a0a0"/>
<path d="M1613,775 L1613,781 L1616.5,778 Z" fill="#000"/>
</svg>
</body></html>
